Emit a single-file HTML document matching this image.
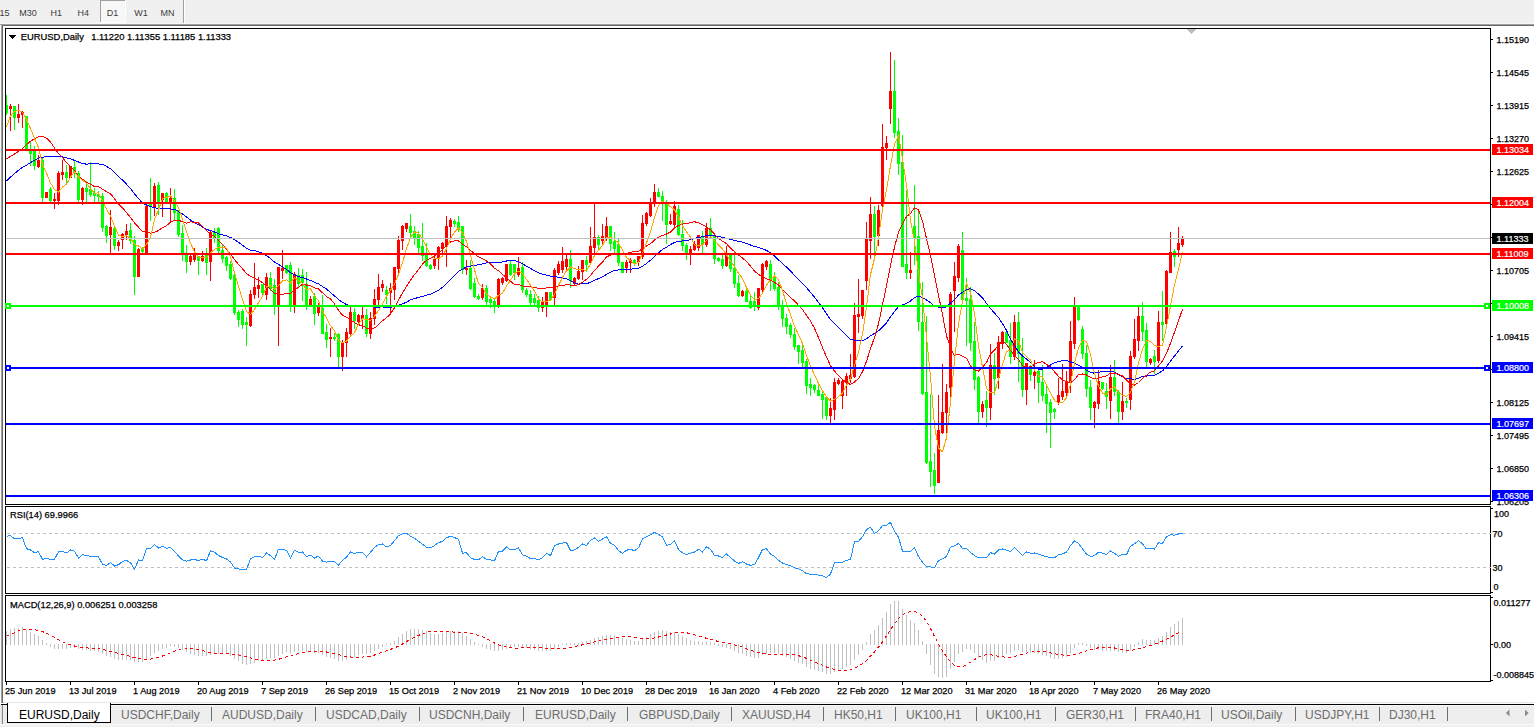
<!DOCTYPE html>
<html><head><meta charset="utf-8"><style>
html,body{margin:0;padding:0;}
body{width:1534px;height:727px;position:relative;overflow:hidden;background:#f0f0f0;font-family:"Liberation Sans", sans-serif;}
.t{position:absolute;white-space:nowrap;line-height:1;font-family:"Liberation Sans", sans-serif;-webkit-text-stroke:0.25px currentColor;}
.n{-webkit-text-stroke:0;transform:none;}
.bx{position:absolute;left:1492px;width:41px;height:11px;font-size:10px;line-height:11px;font-family:"Liberation Sans", sans-serif;padding-left:4px;box-sizing:border-box;-webkit-text-stroke:0.2px currentColor;}
</style></head><body>
<div style="position:absolute;left:100px;top:0;width:26px;height:23px;background:#fff"></div><div style="position:absolute;left:100px;top:0;width:25px;height:22px;background:#f7f7f7;border-left:1px solid #a0a0a0;border-top:1px solid #a0a0a0;box-sizing:border-box"></div>
<div style="position:absolute;left:183px;top:0;width:1px;height:24px;background:#a0a0a0"></div><div style="position:absolute;left:184px;top:0;width:1px;height:24px;background:#fff"></div><div style="position:absolute;left:0;top:23px;width:1534px;height:1px;background:#f7f7f7"></div>
<div style="position:absolute;left:0;top:24px;width:1534px;height:1px;background:#a0a0a0"></div>
<div style="position:absolute;left:1px;top:25px;width:1533px;height:1px;background:#696969"></div>
<div style="position:absolute;left:1px;top:24px;width:1px;height:679px;background:#a0a0a0"></div>
<div style="position:absolute;left:2px;top:25px;width:1px;height:678px;background:#696969"></div>
<div style="position:absolute;left:0;top:25px;width:1px;height:678px;background:#fafafa"></div>
<div style="position:absolute;left:3px;top:26px;width:1531px;height:676px;background:#fff"></div>
<div style="position:absolute;left:3px;top:702px;width:1531px;height:1px;background:#e3e3e3"></div>
<!-- tab strip -->
<div style="position:absolute;left:3px;top:702px;width:1531px;height:1px;background:#e6e6e6"></div>
<div style="position:absolute;left:0;top:703px;width:1534px;height:24px;background:#f0f0f0"></div>
<div style="position:absolute;left:0;top:703px;width:1534px;height:1px;background:#fafafa"></div>
<div style="position:absolute;left:1px;top:705px;width:1533px;height:1px;background:#f8f8f8"></div>
<div style="position:absolute;left:3px;top:706px;width:1531px;height:18px;background:#eeeeee"></div>
<div style="position:absolute;left:0;top:724px;width:1534px;height:1px;background:#fafafa"></div>
<div style="position:absolute;left:1px;top:704px;width:1533px;height:1px;background:#000"></div>
<div style="position:absolute;left:1px;top:705px;width:1px;height:19px;background:#dcdcdc"></div>
<div style="position:absolute;left:2px;top:705px;width:1px;height:19px;background:#8a8a8a"></div>
<div style="position:absolute;left:4px;top:705px;width:2px;height:19px;background:#ebebeb"></div>
<div style="position:absolute;left:7px;top:703px;width:104px;height:20px;background:#fff;border-left:1px solid #000;border-right:1px solid #000;border-bottom:1px solid #000;box-sizing:border-box"></div>
<div class="t n" style="left:19px;top:709.0px;font-size:12px;color:#000">EURUSD,Daily</div><div class="t n" style="left:121px;top:709.0px;font-size:12px;color:#6d6d6d">USDCHF,Daily</div><div class="t n" style="left:222px;top:709.0px;font-size:12px;color:#6d6d6d">AUDUSD,Daily</div><div class="t n" style="left:326px;top:709.0px;font-size:12px;color:#6d6d6d">USDCAD,Daily</div><div class="t n" style="left:429px;top:709.0px;font-size:12px;color:#6d6d6d">USDCNH,Daily</div><div class="t n" style="left:535px;top:709.0px;font-size:12px;color:#6d6d6d">EURUSD,Daily</div><div class="t n" style="left:639px;top:709.0px;font-size:12px;color:#6d6d6d">GBPUSD,Daily</div><div class="t n" style="left:742px;top:709.0px;font-size:12px;color:#6d6d6d">XAUUSD,H4</div><div class="t n" style="left:834px;top:709.0px;font-size:12px;color:#6d6d6d">HK50,H1</div><div class="t n" style="left:906px;top:709.0px;font-size:12px;color:#6d6d6d">UK100,H1</div><div class="t n" style="left:986px;top:709.0px;font-size:12px;color:#6d6d6d">UK100,H1</div><div class="t n" style="left:1066px;top:709.0px;font-size:12px;color:#6d6d6d">GER30,H1</div><div class="t n" style="left:1145px;top:709.0px;font-size:12px;color:#6d6d6d">FRA40,H1</div><div class="t n" style="left:1221px;top:709.0px;font-size:12px;color:#6d6d6d">USOil,Daily</div><div class="t n" style="left:1305px;top:709.0px;font-size:12px;color:#6d6d6d">USDJPY,H1</div><div class="t n" style="left:1389px;top:709.0px;font-size:12px;color:#6d6d6d">DJ30,H1</div><div style="position:absolute;left:211px;top:707px;width:1px;height:14px;background:#6e6e6e"></div><div style="position:absolute;left:315px;top:707px;width:1px;height:14px;background:#6e6e6e"></div><div style="position:absolute;left:419px;top:707px;width:1px;height:14px;background:#6e6e6e"></div><div style="position:absolute;left:523px;top:707px;width:1px;height:14px;background:#6e6e6e"></div><div style="position:absolute;left:627px;top:707px;width:1px;height:14px;background:#6e6e6e"></div><div style="position:absolute;left:731px;top:707px;width:1px;height:14px;background:#6e6e6e"></div><div style="position:absolute;left:823px;top:707px;width:1px;height:14px;background:#6e6e6e"></div><div style="position:absolute;left:895px;top:707px;width:1px;height:14px;background:#6e6e6e"></div><div style="position:absolute;left:976px;top:707px;width:1px;height:14px;background:#6e6e6e"></div><div style="position:absolute;left:1055px;top:707px;width:1px;height:14px;background:#6e6e6e"></div><div style="position:absolute;left:1135px;top:707px;width:1px;height:14px;background:#6e6e6e"></div><div style="position:absolute;left:1211px;top:707px;width:1px;height:14px;background:#6e6e6e"></div><div style="position:absolute;left:1295px;top:707px;width:1px;height:14px;background:#6e6e6e"></div><div style="position:absolute;left:1379px;top:707px;width:1px;height:14px;background:#6e6e6e"></div><div style="position:absolute;left:1447px;top:707px;width:1px;height:14px;background:#6e6e6e"></div>
<svg width="1534" height="727" style="position:absolute;left:0;top:0"><polygon points="1509.5,709.5 1509.5,716.5 1505.8,713" fill="#8c8c8c"/><polygon points="1525,709.5 1525,716.5 1528.7,713" fill="#8c8c8c"/></svg>
<svg width="1534" height="727" style="position:absolute;left:0;top:0" shape-rendering="crispEdges">
<rect x="6" y="95" width="1" height="20" fill="#00ff00"/>
<rect x="6" y="105" width="2" height="8" fill="#00ff00"/>
<rect x="10" y="104" width="1" height="27" fill="#ff0000"/>
<rect x="9" y="106" width="3" height="3" fill="#ff0000"/>
<rect x="14" y="106" width="1" height="24" fill="#00ff00"/>
<rect x="13" y="106" width="3" height="12" fill="#00ff00"/>
<rect x="18" y="104" width="1" height="19" fill="#ff0000"/>
<rect x="17" y="114" width="3" height="4" fill="#ff0000"/>
<rect x="22" y="111" width="1" height="17" fill="#ff0000"/>
<rect x="21" y="112" width="3" height="3" fill="#ff0000"/>
<rect x="26" y="116" width="1" height="35" fill="#00ff00"/>
<rect x="25" y="116" width="3" height="33" fill="#00ff00"/>
<rect x="30" y="142" width="1" height="24" fill="#00ff00"/>
<rect x="29" y="149" width="3" height="5" fill="#00ff00"/>
<rect x="34" y="146" width="1" height="24" fill="#00ff00"/>
<rect x="33" y="151" width="3" height="15" fill="#00ff00"/>
<rect x="38" y="155" width="1" height="13" fill="#ff0000"/>
<rect x="37" y="160" width="3" height="7" fill="#ff0000"/>
<rect x="42" y="158" width="1" height="44" fill="#00ff00"/>
<rect x="41" y="160" width="3" height="38" fill="#00ff00"/>
<rect x="46" y="192" width="1" height="6" fill="#ff0000"/>
<rect x="45" y="192" width="3" height="6" fill="#ff0000"/>
<rect x="50" y="187" width="1" height="15" fill="#00ff00"/>
<rect x="49" y="189" width="3" height="12" fill="#00ff00"/>
<rect x="54" y="193" width="1" height="16" fill="#ff0000"/>
<rect x="53" y="199" width="3" height="2" fill="#ff0000"/>
<rect x="58" y="171" width="1" height="34" fill="#ff0000"/>
<rect x="57" y="173" width="3" height="28" fill="#ff0000"/>
<rect x="62" y="160" width="1" height="20" fill="#ff0000"/>
<rect x="61" y="172" width="3" height="3" fill="#ff0000"/>
<rect x="66" y="165" width="1" height="20" fill="#00ff00"/>
<rect x="65" y="172" width="3" height="6" fill="#00ff00"/>
<rect x="70" y="166" width="1" height="12" fill="#ff0000"/>
<rect x="69" y="166" width="3" height="12" fill="#ff0000"/>
<rect x="74" y="160" width="1" height="18" fill="#00ff00"/>
<rect x="73" y="167" width="3" height="5" fill="#00ff00"/>
<rect x="78" y="171" width="1" height="31" fill="#00ff00"/>
<rect x="77" y="173" width="3" height="27" fill="#00ff00"/>
<rect x="82" y="187" width="1" height="18" fill="#ff0000"/>
<rect x="81" y="188" width="3" height="12" fill="#ff0000"/>
<rect x="86" y="181" width="1" height="22" fill="#00ff00"/>
<rect x="85" y="188" width="3" height="4" fill="#00ff00"/>
<rect x="90" y="162" width="1" height="35" fill="#00ff00"/>
<rect x="89" y="189" width="3" height="6" fill="#00ff00"/>
<rect x="94" y="188" width="1" height="15" fill="#00ff00"/>
<rect x="93" y="193" width="3" height="3" fill="#00ff00"/>
<rect x="98" y="191" width="1" height="11" fill="#00ff00"/>
<rect x="97" y="194" width="3" height="3" fill="#00ff00"/>
<rect x="102" y="193" width="1" height="39" fill="#00ff00"/>
<rect x="101" y="196" width="3" height="32" fill="#00ff00"/>
<rect x="106" y="225" width="1" height="18" fill="#00ff00"/>
<rect x="105" y="226" width="3" height="10" fill="#00ff00"/>
<rect x="110" y="210" width="1" height="44" fill="#ff0000"/>
<rect x="109" y="227" width="3" height="8" fill="#ff0000"/>
<rect x="114" y="227" width="1" height="23" fill="#00ff00"/>
<rect x="113" y="228" width="3" height="18" fill="#00ff00"/>
<rect x="118" y="240" width="1" height="11" fill="#ff0000"/>
<rect x="117" y="242" width="3" height="4" fill="#ff0000"/>
<rect x="122" y="233" width="1" height="16" fill="#ff0000"/>
<rect x="121" y="234" width="3" height="6" fill="#ff0000"/>
<rect x="126" y="224" width="1" height="16" fill="#ff0000"/>
<rect x="125" y="231" width="3" height="4" fill="#ff0000"/>
<rect x="130" y="223" width="1" height="21" fill="#00ff00"/>
<rect x="129" y="230" width="3" height="11" fill="#00ff00"/>
<rect x="134" y="236" width="1" height="59" fill="#00ff00"/>
<rect x="133" y="240" width="3" height="37" fill="#00ff00"/>
<rect x="138" y="248" width="1" height="29" fill="#ff0000"/>
<rect x="137" y="249" width="3" height="28" fill="#ff0000"/>
<rect x="142" y="247" width="1" height="6" fill="#00ff00"/>
<rect x="141" y="248" width="3" height="4" fill="#00ff00"/>
<rect x="146" y="204" width="1" height="50" fill="#ff0000"/>
<rect x="145" y="206" width="3" height="48" fill="#ff0000"/>
<rect x="150" y="178" width="1" height="43" fill="#00ff00"/>
<rect x="149" y="204" width="3" height="3" fill="#00ff00"/>
<rect x="154" y="183" width="1" height="33" fill="#ff0000"/>
<rect x="153" y="186" width="3" height="22" fill="#ff0000"/>
<rect x="158" y="182" width="1" height="33" fill="#00ff00"/>
<rect x="157" y="185" width="3" height="17" fill="#00ff00"/>
<rect x="162" y="193" width="1" height="24" fill="#ff0000"/>
<rect x="161" y="193" width="3" height="7" fill="#ff0000"/>
<rect x="166" y="192" width="1" height="11" fill="#00ff00"/>
<rect x="165" y="193" width="3" height="9" fill="#00ff00"/>
<rect x="170" y="188" width="1" height="35" fill="#ff0000"/>
<rect x="169" y="198" width="3" height="6" fill="#ff0000"/>
<rect x="174" y="189" width="1" height="32" fill="#00ff00"/>
<rect x="173" y="198" width="3" height="15" fill="#00ff00"/>
<rect x="178" y="210" width="1" height="27" fill="#00ff00"/>
<rect x="177" y="210" width="3" height="25" fill="#00ff00"/>
<rect x="182" y="225" width="1" height="36" fill="#00ff00"/>
<rect x="181" y="233" width="3" height="21" fill="#00ff00"/>
<rect x="186" y="245" width="1" height="28" fill="#00ff00"/>
<rect x="185" y="255" width="3" height="7" fill="#00ff00"/>
<rect x="190" y="253" width="1" height="12" fill="#ff0000"/>
<rect x="189" y="256" width="3" height="6" fill="#ff0000"/>
<rect x="194" y="248" width="1" height="14" fill="#ff0000"/>
<rect x="193" y="255" width="3" height="5" fill="#ff0000"/>
<rect x="198" y="256" width="1" height="19" fill="#00ff00"/>
<rect x="197" y="256" width="3" height="5" fill="#00ff00"/>
<rect x="202" y="251" width="1" height="11" fill="#ff0000"/>
<rect x="201" y="256" width="3" height="5" fill="#ff0000"/>
<rect x="206" y="248" width="1" height="27" fill="#00ff00"/>
<rect x="205" y="255" width="3" height="8" fill="#00ff00"/>
<rect x="210" y="231" width="1" height="50" fill="#ff0000"/>
<rect x="209" y="232" width="3" height="30" fill="#ff0000"/>
<rect x="214" y="228" width="1" height="15" fill="#00ff00"/>
<rect x="213" y="232" width="3" height="6" fill="#00ff00"/>
<rect x="218" y="227" width="1" height="26" fill="#00ff00"/>
<rect x="217" y="228" width="3" height="23" fill="#00ff00"/>
<rect x="222" y="245" width="1" height="18" fill="#00ff00"/>
<rect x="221" y="250" width="3" height="9" fill="#00ff00"/>
<rect x="226" y="256" width="1" height="15" fill="#00ff00"/>
<rect x="225" y="257" width="3" height="9" fill="#00ff00"/>
<rect x="230" y="261" width="1" height="19" fill="#00ff00"/>
<rect x="229" y="264" width="3" height="15" fill="#00ff00"/>
<rect x="234" y="274" width="1" height="41" fill="#00ff00"/>
<rect x="233" y="275" width="3" height="38" fill="#00ff00"/>
<rect x="238" y="310" width="1" height="17" fill="#00ff00"/>
<rect x="237" y="312" width="3" height="8" fill="#00ff00"/>
<rect x="242" y="309" width="1" height="20" fill="#00ff00"/>
<rect x="241" y="311" width="3" height="14" fill="#00ff00"/>
<rect x="246" y="317" width="1" height="29" fill="#00ff00"/>
<rect x="245" y="322" width="3" height="3" fill="#00ff00"/>
<rect x="250" y="290" width="1" height="37" fill="#ff0000"/>
<rect x="249" y="294" width="3" height="32" fill="#ff0000"/>
<rect x="254" y="263" width="1" height="36" fill="#ff0000"/>
<rect x="253" y="287" width="3" height="8" fill="#ff0000"/>
<rect x="258" y="277" width="1" height="21" fill="#ff0000"/>
<rect x="257" y="285" width="3" height="4" fill="#ff0000"/>
<rect x="262" y="284" width="1" height="11" fill="#00ff00"/>
<rect x="261" y="284" width="3" height="9" fill="#00ff00"/>
<rect x="266" y="273" width="1" height="27" fill="#ff0000"/>
<rect x="265" y="277" width="3" height="18" fill="#ff0000"/>
<rect x="270" y="272" width="1" height="19" fill="#00ff00"/>
<rect x="269" y="278" width="3" height="11" fill="#00ff00"/>
<rect x="274" y="279" width="1" height="36" fill="#00ff00"/>
<rect x="273" y="285" width="3" height="20" fill="#00ff00"/>
<rect x="278" y="267" width="1" height="79" fill="#ff0000"/>
<rect x="277" y="267" width="3" height="38" fill="#ff0000"/>
<rect x="282" y="250" width="1" height="29" fill="#ff0000"/>
<rect x="281" y="268" width="3" height="3" fill="#ff0000"/>
<rect x="286" y="265" width="1" height="9" fill="#00ff00"/>
<rect x="285" y="265" width="3" height="8" fill="#00ff00"/>
<rect x="290" y="262" width="1" height="50" fill="#00ff00"/>
<rect x="289" y="265" width="3" height="42" fill="#00ff00"/>
<rect x="294" y="272" width="1" height="41" fill="#ff0000"/>
<rect x="293" y="274" width="3" height="31" fill="#ff0000"/>
<rect x="298" y="268" width="1" height="19" fill="#00ff00"/>
<rect x="297" y="275" width="3" height="9" fill="#00ff00"/>
<rect x="302" y="269" width="1" height="32" fill="#00ff00"/>
<rect x="301" y="275" width="3" height="8" fill="#00ff00"/>
<rect x="306" y="272" width="1" height="38" fill="#00ff00"/>
<rect x="305" y="284" width="3" height="21" fill="#00ff00"/>
<rect x="310" y="296" width="1" height="9" fill="#ff0000"/>
<rect x="309" y="299" width="3" height="6" fill="#ff0000"/>
<rect x="314" y="293" width="1" height="32" fill="#00ff00"/>
<rect x="313" y="296" width="3" height="18" fill="#00ff00"/>
<rect x="318" y="303" width="1" height="13" fill="#ff0000"/>
<rect x="317" y="306" width="3" height="7" fill="#ff0000"/>
<rect x="322" y="295" width="1" height="39" fill="#00ff00"/>
<rect x="321" y="308" width="3" height="26" fill="#00ff00"/>
<rect x="326" y="324" width="1" height="24" fill="#00ff00"/>
<rect x="325" y="332" width="3" height="8" fill="#00ff00"/>
<rect x="330" y="328" width="1" height="29" fill="#ff0000"/>
<rect x="329" y="337" width="3" height="2" fill="#ff0000"/>
<rect x="334" y="333" width="1" height="8" fill="#00ff00"/>
<rect x="333" y="337" width="3" height="2" fill="#00ff00"/>
<rect x="338" y="333" width="1" height="35" fill="#00ff00"/>
<rect x="337" y="334" width="3" height="23" fill="#00ff00"/>
<rect x="342" y="340" width="1" height="31" fill="#ff0000"/>
<rect x="341" y="342" width="3" height="15" fill="#ff0000"/>
<rect x="346" y="328" width="1" height="29" fill="#ff0000"/>
<rect x="345" y="332" width="3" height="11" fill="#ff0000"/>
<rect x="350" y="307" width="1" height="30" fill="#ff0000"/>
<rect x="349" y="312" width="3" height="22" fill="#ff0000"/>
<rect x="354" y="308" width="1" height="21" fill="#00ff00"/>
<rect x="353" y="312" width="3" height="9" fill="#00ff00"/>
<rect x="358" y="314" width="1" height="9" fill="#ff0000"/>
<rect x="357" y="315" width="3" height="7" fill="#ff0000"/>
<rect x="362" y="307" width="1" height="22" fill="#ff0000"/>
<rect x="361" y="315" width="3" height="4" fill="#ff0000"/>
<rect x="366" y="309" width="1" height="28" fill="#00ff00"/>
<rect x="365" y="315" width="3" height="19" fill="#00ff00"/>
<rect x="370" y="312" width="1" height="27" fill="#ff0000"/>
<rect x="369" y="318" width="3" height="16" fill="#ff0000"/>
<rect x="374" y="289" width="1" height="36" fill="#ff0000"/>
<rect x="373" y="299" width="3" height="20" fill="#ff0000"/>
<rect x="378" y="274" width="1" height="31" fill="#ff0000"/>
<rect x="377" y="287" width="3" height="13" fill="#ff0000"/>
<rect x="382" y="280" width="1" height="12" fill="#ff0000"/>
<rect x="381" y="284" width="3" height="4" fill="#ff0000"/>
<rect x="386" y="286" width="1" height="18" fill="#00ff00"/>
<rect x="385" y="290" width="3" height="5" fill="#00ff00"/>
<rect x="390" y="283" width="1" height="30" fill="#ff0000"/>
<rect x="389" y="288" width="3" height="5" fill="#ff0000"/>
<rect x="394" y="267" width="1" height="33" fill="#ff0000"/>
<rect x="393" y="267" width="3" height="23" fill="#ff0000"/>
<rect x="398" y="236" width="1" height="38" fill="#ff0000"/>
<rect x="397" y="240" width="3" height="29" fill="#ff0000"/>
<rect x="402" y="225" width="1" height="25" fill="#ff0000"/>
<rect x="401" y="226" width="3" height="15" fill="#ff0000"/>
<rect x="406" y="223" width="1" height="9" fill="#ff0000"/>
<rect x="405" y="223" width="3" height="6" fill="#ff0000"/>
<rect x="410" y="214" width="1" height="23" fill="#00ff00"/>
<rect x="409" y="226" width="3" height="7" fill="#00ff00"/>
<rect x="414" y="226" width="1" height="19" fill="#00ff00"/>
<rect x="413" y="231" width="3" height="7" fill="#00ff00"/>
<rect x="418" y="231" width="1" height="23" fill="#00ff00"/>
<rect x="417" y="234" width="3" height="14" fill="#00ff00"/>
<rect x="422" y="223" width="1" height="38" fill="#00ff00"/>
<rect x="421" y="246" width="3" height="10" fill="#00ff00"/>
<rect x="426" y="243" width="1" height="24" fill="#00ff00"/>
<rect x="425" y="255" width="3" height="11" fill="#00ff00"/>
<rect x="430" y="264" width="1" height="6" fill="#00ff00"/>
<rect x="429" y="265" width="3" height="4" fill="#00ff00"/>
<rect x="434" y="253" width="1" height="16" fill="#ff0000"/>
<rect x="433" y="259" width="3" height="7" fill="#ff0000"/>
<rect x="438" y="246" width="1" height="24" fill="#ff0000"/>
<rect x="437" y="247" width="3" height="12" fill="#ff0000"/>
<rect x="442" y="242" width="1" height="12" fill="#ff0000"/>
<rect x="441" y="243" width="3" height="6" fill="#ff0000"/>
<rect x="446" y="216" width="1" height="51" fill="#ff0000"/>
<rect x="445" y="226" width="3" height="20" fill="#ff0000"/>
<rect x="450" y="218" width="1" height="21" fill="#ff0000"/>
<rect x="449" y="220" width="3" height="7" fill="#ff0000"/>
<rect x="454" y="219" width="1" height="8" fill="#00ff00"/>
<rect x="453" y="221" width="3" height="3" fill="#00ff00"/>
<rect x="458" y="216" width="1" height="16" fill="#00ff00"/>
<rect x="457" y="222" width="3" height="6" fill="#00ff00"/>
<rect x="462" y="226" width="1" height="48" fill="#00ff00"/>
<rect x="461" y="226" width="3" height="44" fill="#00ff00"/>
<rect x="466" y="260" width="1" height="15" fill="#ff0000"/>
<rect x="465" y="268" width="3" height="2" fill="#ff0000"/>
<rect x="470" y="260" width="1" height="30" fill="#00ff00"/>
<rect x="469" y="268" width="3" height="21" fill="#00ff00"/>
<rect x="474" y="278" width="1" height="20" fill="#00ff00"/>
<rect x="473" y="283" width="3" height="14" fill="#00ff00"/>
<rect x="478" y="294" width="1" height="6" fill="#00ff00"/>
<rect x="477" y="296" width="3" height="3" fill="#00ff00"/>
<rect x="482" y="284" width="1" height="16" fill="#ff0000"/>
<rect x="481" y="288" width="3" height="10" fill="#ff0000"/>
<rect x="486" y="285" width="1" height="21" fill="#00ff00"/>
<rect x="485" y="288" width="3" height="14" fill="#00ff00"/>
<rect x="490" y="296" width="1" height="12" fill="#00ff00"/>
<rect x="489" y="299" width="3" height="4" fill="#00ff00"/>
<rect x="494" y="298" width="1" height="15" fill="#00ff00"/>
<rect x="493" y="301" width="3" height="5" fill="#00ff00"/>
<rect x="498" y="278" width="1" height="30" fill="#ff0000"/>
<rect x="497" y="279" width="3" height="27" fill="#ff0000"/>
<rect x="502" y="277" width="1" height="8" fill="#ff0000"/>
<rect x="501" y="278" width="3" height="5" fill="#ff0000"/>
<rect x="506" y="264" width="1" height="18" fill="#ff0000"/>
<rect x="505" y="264" width="3" height="17" fill="#ff0000"/>
<rect x="510" y="261" width="1" height="15" fill="#00ff00"/>
<rect x="509" y="264" width="3" height="11" fill="#00ff00"/>
<rect x="514" y="264" width="1" height="16" fill="#00ff00"/>
<rect x="513" y="264" width="3" height="9" fill="#00ff00"/>
<rect x="518" y="257" width="1" height="20" fill="#ff0000"/>
<rect x="517" y="268" width="3" height="7" fill="#ff0000"/>
<rect x="522" y="262" width="1" height="31" fill="#00ff00"/>
<rect x="521" y="267" width="3" height="23" fill="#00ff00"/>
<rect x="526" y="288" width="1" height="9" fill="#00ff00"/>
<rect x="525" y="290" width="3" height="5" fill="#00ff00"/>
<rect x="530" y="290" width="1" height="16" fill="#00ff00"/>
<rect x="529" y="294" width="3" height="9" fill="#00ff00"/>
<rect x="534" y="294" width="1" height="12" fill="#00ff00"/>
<rect x="533" y="298" width="3" height="5" fill="#00ff00"/>
<rect x="538" y="296" width="1" height="16" fill="#00ff00"/>
<rect x="537" y="300" width="3" height="8" fill="#00ff00"/>
<rect x="542" y="297" width="1" height="15" fill="#ff0000"/>
<rect x="541" y="302" width="3" height="6" fill="#ff0000"/>
<rect x="546" y="292" width="1" height="25" fill="#ff0000"/>
<rect x="545" y="292" width="3" height="13" fill="#ff0000"/>
<rect x="550" y="292" width="1" height="9" fill="#00ff00"/>
<rect x="549" y="292" width="3" height="8" fill="#00ff00"/>
<rect x="554" y="268" width="1" height="38" fill="#ff0000"/>
<rect x="553" y="270" width="3" height="28" fill="#ff0000"/>
<rect x="558" y="261" width="1" height="14" fill="#ff0000"/>
<rect x="557" y="264" width="3" height="9" fill="#ff0000"/>
<rect x="562" y="247" width="1" height="26" fill="#ff0000"/>
<rect x="561" y="261" width="3" height="9" fill="#ff0000"/>
<rect x="566" y="255" width="1" height="16" fill="#ff0000"/>
<rect x="565" y="259" width="3" height="8" fill="#ff0000"/>
<rect x="570" y="250" width="1" height="38" fill="#00ff00"/>
<rect x="569" y="259" width="3" height="22" fill="#00ff00"/>
<rect x="574" y="277" width="1" height="8" fill="#ff0000"/>
<rect x="573" y="278" width="3" height="6" fill="#ff0000"/>
<rect x="578" y="266" width="1" height="14" fill="#ff0000"/>
<rect x="577" y="271" width="3" height="8" fill="#ff0000"/>
<rect x="582" y="260" width="1" height="20" fill="#ff0000"/>
<rect x="581" y="260" width="3" height="12" fill="#ff0000"/>
<rect x="586" y="256" width="1" height="16" fill="#00ff00"/>
<rect x="585" y="260" width="3" height="5" fill="#00ff00"/>
<rect x="590" y="227" width="1" height="36" fill="#ff0000"/>
<rect x="589" y="246" width="3" height="17" fill="#ff0000"/>
<rect x="594" y="204" width="1" height="50" fill="#ff0000"/>
<rect x="593" y="237" width="3" height="11" fill="#ff0000"/>
<rect x="598" y="235" width="1" height="15" fill="#00ff00"/>
<rect x="597" y="237" width="3" height="8" fill="#00ff00"/>
<rect x="602" y="224" width="1" height="20" fill="#ff0000"/>
<rect x="601" y="236" width="3" height="5" fill="#ff0000"/>
<rect x="606" y="217" width="1" height="24" fill="#ff0000"/>
<rect x="605" y="226" width="3" height="12" fill="#ff0000"/>
<rect x="610" y="226" width="1" height="25" fill="#00ff00"/>
<rect x="609" y="226" width="3" height="18" fill="#00ff00"/>
<rect x="614" y="232" width="1" height="21" fill="#00ff00"/>
<rect x="613" y="241" width="3" height="8" fill="#00ff00"/>
<rect x="618" y="239" width="1" height="27" fill="#00ff00"/>
<rect x="617" y="244" width="3" height="19" fill="#00ff00"/>
<rect x="622" y="262" width="1" height="11" fill="#00ff00"/>
<rect x="621" y="262" width="3" height="11" fill="#00ff00"/>
<rect x="626" y="260" width="1" height="13" fill="#ff0000"/>
<rect x="625" y="262" width="3" height="6" fill="#ff0000"/>
<rect x="630" y="258" width="1" height="15" fill="#ff0000"/>
<rect x="629" y="260" width="3" height="3" fill="#ff0000"/>
<rect x="634" y="259" width="1" height="7" fill="#00ff00"/>
<rect x="633" y="260" width="3" height="4" fill="#00ff00"/>
<rect x="638" y="256" width="1" height="10" fill="#ff0000"/>
<rect x="637" y="256" width="3" height="6" fill="#ff0000"/>
<rect x="642" y="215" width="1" height="44" fill="#ff0000"/>
<rect x="641" y="223" width="3" height="34" fill="#ff0000"/>
<rect x="646" y="212" width="1" height="14" fill="#ff0000"/>
<rect x="645" y="213" width="3" height="11" fill="#ff0000"/>
<rect x="650" y="198" width="1" height="19" fill="#ff0000"/>
<rect x="649" y="204" width="3" height="12" fill="#ff0000"/>
<rect x="654" y="184" width="1" height="23" fill="#ff0000"/>
<rect x="653" y="192" width="3" height="11" fill="#ff0000"/>
<rect x="658" y="188" width="1" height="9" fill="#00ff00"/>
<rect x="657" y="192" width="3" height="5" fill="#00ff00"/>
<rect x="662" y="191" width="1" height="30" fill="#00ff00"/>
<rect x="661" y="196" width="3" height="7" fill="#00ff00"/>
<rect x="666" y="200" width="1" height="44" fill="#00ff00"/>
<rect x="665" y="202" width="3" height="23" fill="#00ff00"/>
<rect x="670" y="214" width="1" height="11" fill="#ff0000"/>
<rect x="669" y="221" width="3" height="3" fill="#ff0000"/>
<rect x="674" y="201" width="1" height="26" fill="#ff0000"/>
<rect x="673" y="206" width="3" height="19" fill="#ff0000"/>
<rect x="678" y="205" width="1" height="31" fill="#00ff00"/>
<rect x="677" y="209" width="3" height="26" fill="#00ff00"/>
<rect x="682" y="220" width="1" height="31" fill="#00ff00"/>
<rect x="681" y="234" width="3" height="12" fill="#00ff00"/>
<rect x="686" y="243" width="1" height="17" fill="#00ff00"/>
<rect x="685" y="245" width="3" height="9" fill="#00ff00"/>
<rect x="690" y="246" width="1" height="19" fill="#ff0000"/>
<rect x="689" y="249" width="3" height="5" fill="#ff0000"/>
<rect x="694" y="241" width="1" height="10" fill="#ff0000"/>
<rect x="693" y="244" width="3" height="6" fill="#ff0000"/>
<rect x="698" y="235" width="1" height="16" fill="#ff0000"/>
<rect x="697" y="235" width="3" height="13" fill="#ff0000"/>
<rect x="702" y="231" width="1" height="23" fill="#00ff00"/>
<rect x="701" y="236" width="3" height="9" fill="#00ff00"/>
<rect x="706" y="223" width="1" height="24" fill="#ff0000"/>
<rect x="705" y="228" width="3" height="17" fill="#ff0000"/>
<rect x="710" y="218" width="1" height="21" fill="#00ff00"/>
<rect x="709" y="228" width="3" height="8" fill="#00ff00"/>
<rect x="714" y="233" width="1" height="31" fill="#00ff00"/>
<rect x="713" y="235" width="3" height="24" fill="#00ff00"/>
<rect x="718" y="257" width="1" height="5" fill="#00ff00"/>
<rect x="717" y="258" width="3" height="3" fill="#00ff00"/>
<rect x="722" y="255" width="1" height="14" fill="#00ff00"/>
<rect x="721" y="259" width="3" height="7" fill="#00ff00"/>
<rect x="726" y="246" width="1" height="21" fill="#ff0000"/>
<rect x="725" y="255" width="3" height="11" fill="#ff0000"/>
<rect x="730" y="255" width="1" height="17" fill="#00ff00"/>
<rect x="729" y="255" width="3" height="14" fill="#00ff00"/>
<rect x="734" y="251" width="1" height="37" fill="#00ff00"/>
<rect x="733" y="268" width="3" height="16" fill="#00ff00"/>
<rect x="738" y="275" width="1" height="22" fill="#00ff00"/>
<rect x="737" y="283" width="3" height="13" fill="#00ff00"/>
<rect x="742" y="290" width="1" height="7" fill="#ff0000"/>
<rect x="741" y="291" width="3" height="5" fill="#ff0000"/>
<rect x="746" y="289" width="1" height="13" fill="#00ff00"/>
<rect x="745" y="291" width="3" height="11" fill="#00ff00"/>
<rect x="750" y="296" width="1" height="13" fill="#00ff00"/>
<rect x="749" y="301" width="3" height="7" fill="#00ff00"/>
<rect x="754" y="292" width="1" height="19" fill="#00ff00"/>
<rect x="753" y="301" width="3" height="6" fill="#00ff00"/>
<rect x="758" y="288" width="1" height="22" fill="#ff0000"/>
<rect x="757" y="288" width="3" height="20" fill="#ff0000"/>
<rect x="762" y="263" width="1" height="30" fill="#ff0000"/>
<rect x="761" y="264" width="3" height="26" fill="#ff0000"/>
<rect x="766" y="260" width="1" height="10" fill="#ff0000"/>
<rect x="765" y="261" width="3" height="6" fill="#ff0000"/>
<rect x="770" y="260" width="1" height="31" fill="#00ff00"/>
<rect x="769" y="264" width="3" height="16" fill="#00ff00"/>
<rect x="774" y="272" width="1" height="19" fill="#00ff00"/>
<rect x="773" y="277" width="3" height="12" fill="#00ff00"/>
<rect x="778" y="282" width="1" height="28" fill="#00ff00"/>
<rect x="777" y="287" width="3" height="20" fill="#00ff00"/>
<rect x="782" y="300" width="1" height="27" fill="#00ff00"/>
<rect x="781" y="307" width="3" height="12" fill="#00ff00"/>
<rect x="786" y="314" width="1" height="20" fill="#00ff00"/>
<rect x="785" y="318" width="3" height="9" fill="#00ff00"/>
<rect x="790" y="323" width="1" height="15" fill="#00ff00"/>
<rect x="789" y="325" width="3" height="10" fill="#00ff00"/>
<rect x="794" y="328" width="1" height="22" fill="#00ff00"/>
<rect x="793" y="334" width="3" height="13" fill="#00ff00"/>
<rect x="798" y="345" width="1" height="19" fill="#00ff00"/>
<rect x="797" y="345" width="3" height="7" fill="#00ff00"/>
<rect x="802" y="345" width="1" height="22" fill="#00ff00"/>
<rect x="801" y="350" width="3" height="13" fill="#00ff00"/>
<rect x="806" y="359" width="1" height="35" fill="#00ff00"/>
<rect x="805" y="361" width="3" height="25" fill="#00ff00"/>
<rect x="810" y="378" width="1" height="18" fill="#00ff00"/>
<rect x="809" y="384" width="3" height="4" fill="#00ff00"/>
<rect x="814" y="384" width="1" height="9" fill="#00ff00"/>
<rect x="813" y="385" width="3" height="5" fill="#00ff00"/>
<rect x="818" y="384" width="1" height="12" fill="#00ff00"/>
<rect x="817" y="390" width="3" height="6" fill="#00ff00"/>
<rect x="822" y="392" width="1" height="27" fill="#00ff00"/>
<rect x="821" y="394" width="3" height="6" fill="#00ff00"/>
<rect x="826" y="397" width="1" height="23" fill="#00ff00"/>
<rect x="825" y="397" width="3" height="19" fill="#00ff00"/>
<rect x="830" y="398" width="1" height="25" fill="#ff0000"/>
<rect x="829" y="408" width="3" height="8" fill="#ff0000"/>
<rect x="834" y="378" width="1" height="42" fill="#ff0000"/>
<rect x="833" y="382" width="3" height="28" fill="#ff0000"/>
<rect x="838" y="378" width="1" height="7" fill="#ff0000"/>
<rect x="837" y="380" width="3" height="4" fill="#ff0000"/>
<rect x="842" y="379" width="1" height="30" fill="#ff0000"/>
<rect x="841" y="381" width="3" height="15" fill="#ff0000"/>
<rect x="846" y="373" width="1" height="23" fill="#ff0000"/>
<rect x="845" y="376" width="3" height="7" fill="#ff0000"/>
<rect x="850" y="354" width="1" height="29" fill="#ff0000"/>
<rect x="849" y="375" width="3" height="4" fill="#ff0000"/>
<rect x="854" y="303" width="1" height="75" fill="#ff0000"/>
<rect x="853" y="315" width="3" height="62" fill="#ff0000"/>
<rect x="858" y="279" width="1" height="54" fill="#ff0000"/>
<rect x="857" y="314" width="3" height="3" fill="#ff0000"/>
<rect x="862" y="290" width="1" height="29" fill="#ff0000"/>
<rect x="861" y="290" width="3" height="26" fill="#ff0000"/>
<rect x="866" y="222" width="1" height="68" fill="#ff0000"/>
<rect x="865" y="239" width="3" height="42" fill="#ff0000"/>
<rect x="870" y="197" width="1" height="62" fill="#ff0000"/>
<rect x="869" y="214" width="3" height="27" fill="#ff0000"/>
<rect x="874" y="206" width="1" height="51" fill="#00ff00"/>
<rect x="873" y="214" width="3" height="23" fill="#00ff00"/>
<rect x="878" y="205" width="1" height="41" fill="#ff0000"/>
<rect x="877" y="210" width="3" height="26" fill="#ff0000"/>
<rect x="882" y="124" width="1" height="88" fill="#ff0000"/>
<rect x="881" y="147" width="3" height="59" fill="#ff0000"/>
<rect x="886" y="136" width="1" height="24" fill="#ff0000"/>
<rect x="885" y="143" width="3" height="5" fill="#ff0000"/>
<rect x="890" y="52" width="1" height="72" fill="#ff0000"/>
<rect x="889" y="91" width="3" height="18" fill="#ff0000"/>
<rect x="894" y="60" width="1" height="78" fill="#00ff00"/>
<rect x="893" y="91" width="3" height="42" fill="#00ff00"/>
<rect x="898" y="118" width="1" height="57" fill="#00ff00"/>
<rect x="897" y="131" width="3" height="33" fill="#00ff00"/>
<rect x="902" y="135" width="1" height="132" fill="#00ff00"/>
<rect x="901" y="162" width="3" height="105" fill="#00ff00"/>
<rect x="906" y="190" width="1" height="89" fill="#00ff00"/>
<rect x="905" y="264" width="3" height="9" fill="#00ff00"/>
<rect x="910" y="252" width="1" height="27" fill="#ff0000"/>
<rect x="909" y="270" width="3" height="3" fill="#ff0000"/>
<rect x="914" y="185" width="1" height="80" fill="#00ff00"/>
<rect x="913" y="226" width="3" height="12" fill="#00ff00"/>
<rect x="918" y="209" width="1" height="122" fill="#00ff00"/>
<rect x="917" y="236" width="3" height="86" fill="#00ff00"/>
<rect x="922" y="282" width="1" height="113" fill="#00ff00"/>
<rect x="921" y="322" width="3" height="72" fill="#00ff00"/>
<rect x="926" y="316" width="1" height="148" fill="#00ff00"/>
<rect x="925" y="392" width="3" height="71" fill="#00ff00"/>
<rect x="930" y="394" width="1" height="93" fill="#00ff00"/>
<rect x="929" y="461" width="3" height="11" fill="#00ff00"/>
<rect x="934" y="453" width="1" height="41" fill="#00ff00"/>
<rect x="933" y="470" width="3" height="16" fill="#00ff00"/>
<rect x="938" y="395" width="1" height="88" fill="#ff0000"/>
<rect x="937" y="430" width="3" height="53" fill="#ff0000"/>
<rect x="942" y="364" width="1" height="70" fill="#ff0000"/>
<rect x="941" y="412" width="3" height="21" fill="#ff0000"/>
<rect x="946" y="384" width="1" height="51" fill="#ff0000"/>
<rect x="945" y="392" width="3" height="21" fill="#ff0000"/>
<rect x="950" y="292" width="1" height="105" fill="#ff0000"/>
<rect x="949" y="294" width="3" height="94" fill="#ff0000"/>
<rect x="954" y="262" width="1" height="70" fill="#ff0000"/>
<rect x="953" y="276" width="3" height="15" fill="#ff0000"/>
<rect x="958" y="244" width="1" height="38" fill="#ff0000"/>
<rect x="957" y="246" width="3" height="32" fill="#ff0000"/>
<rect x="962" y="232" width="1" height="68" fill="#00ff00"/>
<rect x="961" y="250" width="3" height="50" fill="#00ff00"/>
<rect x="966" y="278" width="1" height="68" fill="#00ff00"/>
<rect x="965" y="298" width="3" height="3" fill="#00ff00"/>
<rect x="970" y="287" width="1" height="64" fill="#00ff00"/>
<rect x="969" y="299" width="3" height="44" fill="#00ff00"/>
<rect x="974" y="322" width="1" height="68" fill="#00ff00"/>
<rect x="973" y="341" width="3" height="39" fill="#00ff00"/>
<rect x="978" y="376" width="1" height="47" fill="#00ff00"/>
<rect x="977" y="377" width="3" height="35" fill="#00ff00"/>
<rect x="982" y="401" width="1" height="17" fill="#ff0000"/>
<rect x="981" y="404" width="3" height="8" fill="#ff0000"/>
<rect x="986" y="391" width="1" height="36" fill="#00ff00"/>
<rect x="985" y="400" width="3" height="8" fill="#00ff00"/>
<rect x="990" y="344" width="1" height="76" fill="#ff0000"/>
<rect x="989" y="365" width="3" height="43" fill="#ff0000"/>
<rect x="994" y="353" width="1" height="42" fill="#00ff00"/>
<rect x="993" y="365" width="3" height="14" fill="#00ff00"/>
<rect x="998" y="336" width="1" height="53" fill="#ff0000"/>
<rect x="997" y="342" width="3" height="36" fill="#ff0000"/>
<rect x="1002" y="331" width="1" height="18" fill="#ff0000"/>
<rect x="1001" y="332" width="3" height="12" fill="#ff0000"/>
<rect x="1006" y="329" width="1" height="14" fill="#00ff00"/>
<rect x="1005" y="332" width="3" height="11" fill="#00ff00"/>
<rect x="1010" y="323" width="1" height="41" fill="#00ff00"/>
<rect x="1009" y="340" width="3" height="17" fill="#00ff00"/>
<rect x="1014" y="315" width="1" height="45" fill="#ff0000"/>
<rect x="1013" y="322" width="3" height="35" fill="#ff0000"/>
<rect x="1018" y="312" width="1" height="70" fill="#00ff00"/>
<rect x="1017" y="322" width="3" height="32" fill="#00ff00"/>
<rect x="1022" y="338" width="1" height="59" fill="#00ff00"/>
<rect x="1021" y="356" width="3" height="34" fill="#00ff00"/>
<rect x="1026" y="363" width="1" height="42" fill="#ff0000"/>
<rect x="1025" y="363" width="3" height="27" fill="#ff0000"/>
<rect x="1030" y="365" width="1" height="16" fill="#00ff00"/>
<rect x="1029" y="366" width="3" height="9" fill="#00ff00"/>
<rect x="1034" y="360" width="1" height="29" fill="#ff0000"/>
<rect x="1033" y="372" width="3" height="4" fill="#ff0000"/>
<rect x="1038" y="368" width="1" height="35" fill="#00ff00"/>
<rect x="1037" y="371" width="3" height="12" fill="#00ff00"/>
<rect x="1042" y="365" width="1" height="36" fill="#00ff00"/>
<rect x="1041" y="382" width="3" height="14" fill="#00ff00"/>
<rect x="1046" y="386" width="1" height="47" fill="#00ff00"/>
<rect x="1045" y="394" width="3" height="10" fill="#00ff00"/>
<rect x="1050" y="399" width="1" height="49" fill="#00ff00"/>
<rect x="1049" y="402" width="3" height="11" fill="#00ff00"/>
<rect x="1054" y="408" width="1" height="11" fill="#00ff00"/>
<rect x="1053" y="409" width="3" height="3" fill="#00ff00"/>
<rect x="1058" y="378" width="1" height="27" fill="#ff0000"/>
<rect x="1057" y="395" width="3" height="7" fill="#ff0000"/>
<rect x="1062" y="364" width="1" height="36" fill="#ff0000"/>
<rect x="1061" y="391" width="3" height="6" fill="#ff0000"/>
<rect x="1066" y="371" width="1" height="27" fill="#ff0000"/>
<rect x="1065" y="382" width="3" height="11" fill="#ff0000"/>
<rect x="1070" y="321" width="1" height="72" fill="#ff0000"/>
<rect x="1069" y="341" width="3" height="42" fill="#ff0000"/>
<rect x="1074" y="297" width="1" height="52" fill="#ff0000"/>
<rect x="1073" y="307" width="3" height="37" fill="#ff0000"/>
<rect x="1078" y="306" width="1" height="15" fill="#00ff00"/>
<rect x="1077" y="307" width="3" height="13" fill="#00ff00"/>
<rect x="1082" y="326" width="1" height="33" fill="#00ff00"/>
<rect x="1081" y="329" width="3" height="25" fill="#00ff00"/>
<rect x="1086" y="345" width="1" height="52" fill="#00ff00"/>
<rect x="1085" y="353" width="3" height="36" fill="#00ff00"/>
<rect x="1090" y="380" width="1" height="40" fill="#00ff00"/>
<rect x="1089" y="387" width="3" height="21" fill="#00ff00"/>
<rect x="1094" y="401" width="1" height="27" fill="#ff0000"/>
<rect x="1093" y="402" width="3" height="6" fill="#ff0000"/>
<rect x="1098" y="370" width="1" height="39" fill="#ff0000"/>
<rect x="1097" y="381" width="3" height="23" fill="#ff0000"/>
<rect x="1102" y="382" width="1" height="8" fill="#00ff00"/>
<rect x="1101" y="382" width="3" height="7" fill="#00ff00"/>
<rect x="1106" y="383" width="1" height="26" fill="#00ff00"/>
<rect x="1105" y="391" width="3" height="6" fill="#00ff00"/>
<rect x="1110" y="365" width="1" height="54" fill="#ff0000"/>
<rect x="1109" y="377" width="3" height="24" fill="#ff0000"/>
<rect x="1114" y="360" width="1" height="36" fill="#00ff00"/>
<rect x="1113" y="377" width="3" height="15" fill="#00ff00"/>
<rect x="1118" y="390" width="1" height="33" fill="#00ff00"/>
<rect x="1117" y="392" width="3" height="20" fill="#00ff00"/>
<rect x="1122" y="382" width="1" height="38" fill="#ff0000"/>
<rect x="1121" y="401" width="3" height="11" fill="#ff0000"/>
<rect x="1126" y="398" width="1" height="10" fill="#00ff00"/>
<rect x="1125" y="401" width="3" height="2" fill="#00ff00"/>
<rect x="1130" y="351" width="1" height="59" fill="#ff0000"/>
<rect x="1129" y="356" width="3" height="44" fill="#ff0000"/>
<rect x="1134" y="319" width="1" height="40" fill="#ff0000"/>
<rect x="1133" y="339" width="3" height="18" fill="#ff0000"/>
<rect x="1138" y="307" width="1" height="44" fill="#ff0000"/>
<rect x="1137" y="316" width="3" height="25" fill="#ff0000"/>
<rect x="1142" y="302" width="1" height="39" fill="#00ff00"/>
<rect x="1141" y="316" width="3" height="16" fill="#00ff00"/>
<rect x="1146" y="323" width="1" height="44" fill="#00ff00"/>
<rect x="1145" y="330" width="3" height="32" fill="#00ff00"/>
<rect x="1150" y="358" width="1" height="7" fill="#ff0000"/>
<rect x="1149" y="359" width="3" height="4" fill="#ff0000"/>
<rect x="1154" y="350" width="1" height="24" fill="#00ff00"/>
<rect x="1153" y="356" width="3" height="6" fill="#00ff00"/>
<rect x="1158" y="311" width="1" height="52" fill="#ff0000"/>
<rect x="1157" y="322" width="3" height="39" fill="#ff0000"/>
<rect x="1162" y="291" width="1" height="50" fill="#00ff00"/>
<rect x="1161" y="322" width="3" height="3" fill="#00ff00"/>
<rect x="1166" y="270" width="1" height="55" fill="#ff0000"/>
<rect x="1165" y="271" width="3" height="53" fill="#ff0000"/>
<rect x="1170" y="232" width="1" height="41" fill="#ff0000"/>
<rect x="1169" y="252" width="3" height="21" fill="#ff0000"/>
<rect x="1174" y="249" width="1" height="18" fill="#00ff00"/>
<rect x="1173" y="251" width="3" height="6" fill="#00ff00"/>
<rect x="1178" y="227" width="1" height="30" fill="#ff0000"/>
<rect x="1177" y="243" width="3" height="7" fill="#ff0000"/>
<rect x="1182" y="236" width="1" height="11" fill="#ff0000"/>
<rect x="1181" y="238" width="3" height="7" fill="#ff0000"/>
<polyline points="6.5,181.1 10.5,177.2 14.5,173.5 18.5,170.3 22.5,167.4 26.5,165.1 30.5,162.7 34.5,160.2 38.5,158.2 42.5,157.2 46.5,156.7 50.5,156.6 54.5,156.5 58.5,156.4 62.5,156.9 66.5,157.8 70.5,158.8 74.5,160.4 78.5,162.0 82.5,163.4 86.5,164.2 90.5,163.6 94.5,163.6 98.5,164.0 102.5,164.3 106.5,166.3 110.5,168.8 114.5,172.3 118.5,176.3 122.5,180.2 126.5,184.2 130.5,188.6 134.5,193.9 138.5,198.4 142.5,203.1 146.5,205.0 150.5,206.8 154.5,207.5 158.5,208.8 162.5,208.7 166.5,209.0 170.5,208.9 174.5,209.4 178.5,211.4 182.5,214.1 186.5,216.9 190.5,219.9 194.5,222.7 198.5,224.7 202.5,227.0 206.5,229.4 210.5,230.6 214.5,232.0 218.5,233.8 222.5,234.8 226.5,235.8 230.5,237.5 234.5,239.8 238.5,242.3 242.5,245.3 246.5,248.4 250.5,250.2 254.5,250.6 258.5,251.8 262.5,253.2 266.5,255.6 270.5,258.3 274.5,262.2 278.5,264.4 282.5,266.9 286.5,269.3 290.5,272.9 294.5,274.9 298.5,276.6 302.5,277.6 306.5,279.0 310.5,280.4 314.5,282.4 318.5,283.9 322.5,286.5 326.5,289.0 330.5,292.5 334.5,295.9 338.5,299.5 342.5,302.3 346.5,304.5 350.5,305.7 354.5,305.9 358.5,305.8 362.5,305.5 366.5,305.8 370.5,306.7 374.5,307.1 378.5,307.1 382.5,306.9 386.5,307.4 390.5,307.4 394.5,306.2 398.5,305.3 402.5,303.9 406.5,302.2 410.5,299.8 414.5,298.6 418.5,297.4 422.5,296.5 426.5,295.1 430.5,294.1 434.5,292.3 438.5,290.3 442.5,287.3 446.5,283.6 450.5,279.7 454.5,275.8 458.5,271.5 462.5,269.1 466.5,266.9 470.5,266.2 474.5,265.3 478.5,264.8 482.5,263.9 486.5,262.8 490.5,262.2 494.5,262.4 498.5,262.2 502.5,262.0 506.5,261.0 510.5,260.6 514.5,260.7 518.5,261.7 522.5,263.8 526.5,266.1 530.5,268.5 534.5,270.7 538.5,272.7 542.5,274.2 546.5,275.1 550.5,276.2 554.5,276.6 558.5,277.2 562.5,277.8 566.5,278.8 570.5,280.9 574.5,282.7 578.5,284.2 582.5,283.8 586.5,283.7 590.5,282.3 594.5,280.4 598.5,278.6 602.5,276.8 606.5,274.3 610.5,272.4 614.5,270.4 618.5,269.9 622.5,269.6 626.5,269.6 630.5,269.1 634.5,268.8 638.5,268.4 642.5,266.2 646.5,263.5 650.5,260.2 654.5,256.5 658.5,252.8 662.5,249.5 666.5,247.2 670.5,244.6 674.5,242.4 678.5,241.4 682.5,240.9 686.5,240.7 690.5,239.6 694.5,238.5 698.5,237.3 702.5,236.8 706.5,235.6 710.5,235.2 714.5,235.9 718.5,236.4 722.5,237.4 726.5,238.4 730.5,239.2 734.5,240.4 738.5,241.5 742.5,242.1 746.5,243.4 750.5,245.0 754.5,246.4 758.5,247.5 762.5,248.8 766.5,250.4 770.5,252.9 774.5,256.1 778.5,259.8 782.5,263.7 786.5,267.1 790.5,270.9 794.5,275.5 798.5,279.4 802.5,283.3 806.5,287.7 810.5,292.3 814.5,297.2 818.5,302.5 822.5,307.6 826.5,313.8 830.5,319.6 834.5,323.7 838.5,327.7 842.5,331.6 846.5,335.6 850.5,339.2 854.5,340.2 858.5,340.9 862.5,340.9 866.5,338.8 870.5,335.7 874.5,333.4 878.5,330.8 882.5,326.9 886.5,323.0 890.5,316.7 894.5,311.5 898.5,306.7 902.5,305.0 906.5,303.2 910.5,301.0 914.5,297.4 918.5,296.4 922.5,297.5 926.5,300.0 930.5,302.8 934.5,306.0 938.5,307.2 942.5,307.6 946.5,306.9 950.5,303.1 954.5,299.5 958.5,295.1 962.5,292.3 966.5,289.8 970.5,288.7 974.5,290.8 978.5,294.0 982.5,297.8 986.5,303.4 990.5,308.4 994.5,313.1 998.5,317.5 1002.5,323.7 1006.5,330.3 1010.5,339.2 1014.5,345.5 1018.5,351.8 1022.5,355.9 1026.5,359.0 1030.5,362.4 1034.5,366.9 1038.5,369.0 1042.5,369.0 1046.5,367.1 1050.5,365.1 1054.5,362.6 1058.5,361.5 1062.5,360.8 1066.5,360.4 1070.5,362.0 1074.5,363.1 1078.5,365.5 1082.5,367.3 1086.5,370.2 1090.5,372.4 1094.5,373.2 1098.5,372.2 1102.5,371.6 1106.5,371.3 1110.5,371.7 1114.5,372.1 1118.5,374.4 1122.5,376.7 1126.5,378.8 1130.5,378.8 1134.5,379.3 1138.5,378.1 1142.5,376.2 1146.5,376.1 1150.5,375.6 1154.5,375.3 1158.5,373.2 1162.5,370.9 1166.5,366.5 1170.5,361.2 1174.5,356.0 1178.5,350.9 1182.5,345.8" fill="none" stroke="#0000ff" stroke-width="1" />
<polyline points="6.5,158.8 10.5,156.5 14.5,154.0 18.5,151.4 22.5,148.4 26.5,144.6 30.5,141.2 34.5,138.8 38.5,136.8 42.5,136.4 46.5,138.1 50.5,142.1 54.5,148.0 58.5,153.4 62.5,157.7 66.5,162.7 70.5,166.2 74.5,170.4 78.5,176.6 82.5,179.4 86.5,182.1 90.5,184.2 94.5,186.7 98.5,186.6 102.5,189.1 106.5,191.6 110.5,193.7 114.5,198.8 118.5,203.8 122.5,207.9 126.5,212.5 130.5,217.4 134.5,222.9 138.5,227.2 142.5,231.5 146.5,232.3 150.5,233.2 154.5,232.4 158.5,230.6 162.5,227.6 166.5,225.7 170.5,222.3 174.5,220.2 178.5,220.2 182.5,221.8 186.5,223.3 190.5,221.9 194.5,222.3 198.5,222.9 202.5,226.6 206.5,230.6 210.5,233.8 214.5,236.4 218.5,240.4 222.5,244.5 226.5,249.3 230.5,253.9 234.5,259.6 238.5,264.3 242.5,268.8 246.5,273.6 250.5,276.4 254.5,278.4 258.5,280.4 262.5,282.5 266.5,285.8 270.5,289.4 274.5,293.3 278.5,294.0 282.5,294.2 286.5,293.8 290.5,293.3 294.5,290.1 298.5,287.2 302.5,284.2 306.5,285.0 310.5,285.8 314.5,287.8 318.5,288.8 322.5,292.8 326.5,296.5 330.5,298.8 334.5,303.9 338.5,310.2 342.5,315.3 346.5,317.1 350.5,319.8 354.5,322.5 358.5,324.8 362.5,325.6 366.5,328.1 370.5,328.5 374.5,328.0 378.5,324.7 382.5,320.7 386.5,317.7 390.5,314.0 394.5,307.6 398.5,300.3 402.5,292.8 406.5,286.4 410.5,280.1 414.5,274.6 418.5,269.7 422.5,264.1 426.5,260.3 430.5,258.1 434.5,256.0 438.5,253.4 442.5,249.8 446.5,245.4 450.5,242.0 454.5,240.8 458.5,240.9 462.5,244.2 466.5,246.8 470.5,250.4 474.5,253.9 478.5,256.9 482.5,258.6 486.5,260.9 490.5,264.1 494.5,268.2 498.5,270.8 502.5,274.5 506.5,277.7 510.5,281.3 514.5,284.5 518.5,284.4 522.5,285.9 526.5,286.4 530.5,286.9 534.5,287.2 538.5,288.6 542.5,288.7 546.5,287.9 550.5,287.5 554.5,286.9 558.5,285.9 562.5,285.6 566.5,284.6 570.5,285.1 574.5,285.9 578.5,284.6 582.5,282.2 586.5,279.4 590.5,275.4 594.5,270.3 598.5,266.2 602.5,262.2 606.5,257.0 610.5,255.0 614.5,253.8 618.5,253.9 622.5,254.8 626.5,253.5 630.5,252.2 634.5,251.7 638.5,251.4 642.5,248.5 646.5,246.1 650.5,243.7 654.5,240.0 658.5,237.1 662.5,235.4 666.5,234.0 670.5,232.1 674.5,228.0 678.5,225.4 682.5,224.1 686.5,223.6 690.5,222.6 694.5,221.8 698.5,222.6 702.5,224.9 706.5,226.6 710.5,229.7 714.5,234.2 718.5,238.3 722.5,241.2 726.5,243.7 730.5,248.2 734.5,251.7 738.5,255.2 742.5,257.9 746.5,261.6 750.5,266.1 754.5,271.1 758.5,274.3 762.5,276.8 766.5,278.7 770.5,280.2 774.5,282.2 778.5,285.1 782.5,289.6 786.5,293.8 790.5,297.4 794.5,301.0 798.5,305.3 802.5,309.6 806.5,315.2 810.5,321.0 814.5,328.2 818.5,337.6 822.5,347.4 826.5,357.1 830.5,365.7 834.5,371.1 838.5,375.5 842.5,379.4 846.5,382.4 850.5,384.5 854.5,382.0 858.5,378.6 862.5,371.8 866.5,361.3 870.5,348.7 874.5,337.4 878.5,323.9 882.5,304.8 886.5,285.9 890.5,265.1 894.5,247.4 898.5,231.8 902.5,223.9 906.5,216.6 910.5,213.4 914.5,207.8 918.5,210.0 922.5,221.0 926.5,238.7 930.5,255.5 934.5,275.1 938.5,295.3 942.5,314.5 946.5,336.0 950.5,347.6 954.5,355.7 958.5,354.2 962.5,356.2 966.5,358.3 970.5,365.8 974.5,369.9 978.5,371.2 982.5,367.1 986.5,362.5 990.5,353.9 994.5,350.2 998.5,345.2 1002.5,340.9 1006.5,344.3 1010.5,350.1 1014.5,355.5 1018.5,359.3 1022.5,365.7 1026.5,367.2 1030.5,366.9 1034.5,364.1 1038.5,362.5 1042.5,361.7 1046.5,364.4 1050.5,366.8 1054.5,371.8 1058.5,376.3 1062.5,379.8 1066.5,381.6 1070.5,383.0 1074.5,379.7 1078.5,374.7 1082.5,374.0 1086.5,375.0 1090.5,377.5 1094.5,378.9 1098.5,377.9 1102.5,376.9 1106.5,375.8 1110.5,373.3 1114.5,373.0 1118.5,374.5 1122.5,375.8 1126.5,380.2 1130.5,383.7 1134.5,385.1 1138.5,382.5 1142.5,378.5 1146.5,375.2 1150.5,372.1 1154.5,370.7 1158.5,365.9 1162.5,360.8 1166.5,353.2 1170.5,343.3 1174.5,332.2 1178.5,320.9 1182.5,309.2" fill="none" stroke="#ff0000" stroke-width="1" />
<polyline points="6.5,126.6 10.5,116.0 14.5,111.4 18.5,110.1 22.5,112.2 26.5,119.4 30.5,128.7 34.5,138.3 38.5,147.6 42.5,164.6 46.5,173.4 50.5,182.8 54.5,189.6 58.5,192.1 62.5,187.1 66.5,184.0 70.5,177.3 74.5,171.9 78.5,177.1 82.5,180.3 86.5,183.1 90.5,188.6 94.5,193.3 98.5,192.8 102.5,200.6 106.5,209.4 110.5,216.0 114.5,226.1 118.5,235.2 122.5,236.5 126.5,235.7 130.5,238.3 134.5,244.4 138.5,245.9 142.5,249.4 146.5,244.3 150.5,237.5 154.5,219.5 158.5,209.9 162.5,198.4 166.5,197.4 170.5,195.8 174.5,201.1 178.5,207.5 182.5,219.5 186.5,231.5 190.5,243.2 194.5,251.7 198.5,257.0 202.5,257.6 206.5,257.9 210.5,252.9 214.5,249.3 218.5,247.3 222.5,247.6 226.5,248.1 230.5,257.4 234.5,272.5 238.5,286.4 242.5,299.6 246.5,311.4 250.5,314.6 254.5,309.5 258.5,302.8 262.5,296.3 266.5,287.0 270.5,285.7 274.5,289.2 278.5,285.5 282.5,280.8 286.5,279.8 290.5,283.4 294.5,277.4 298.5,280.6 302.5,283.4 306.5,289.9 310.5,288.5 314.5,296.2 318.5,300.8 322.5,311.1 326.5,318.0 330.5,325.6 334.5,330.7 338.5,340.8 342.5,342.6 346.5,341.1 350.5,336.2 354.5,332.6 358.5,324.3 362.5,318.9 366.5,319.2 370.5,320.5 374.5,316.2 378.5,310.6 382.5,304.3 386.5,296.4 390.5,290.2 394.5,283.9 398.5,274.4 402.5,262.9 406.5,248.7 410.5,237.7 414.5,231.7 418.5,233.2 422.5,238.9 426.5,247.4 430.5,254.4 434.5,258.7 438.5,258.7 442.5,256.3 446.5,248.5 450.5,239.0 454.5,231.9 458.5,227.9 462.5,233.2 466.5,241.5 470.5,255.1 474.5,269.7 478.5,283.7 482.5,287.5 486.5,294.1 490.5,297.0 494.5,298.8 498.5,295.2 502.5,293.2 506.5,286.0 510.5,280.2 514.5,273.6 518.5,271.3 522.5,273.4 526.5,279.4 530.5,285.2 534.5,291.3 538.5,299.2 542.5,301.8 546.5,301.3 550.5,300.7 554.5,294.2 558.5,285.6 562.5,277.4 566.5,270.8 570.5,267.0 574.5,268.6 578.5,269.9 582.5,269.7 586.5,270.7 590.5,263.9 594.5,255.6 598.5,250.2 602.5,245.4 606.5,237.9 610.5,237.2 614.5,239.4 618.5,243.0 622.5,250.1 626.5,257.4 630.5,260.8 634.5,264.0 638.5,262.6 642.5,252.9 646.5,243.0 650.5,231.8 654.5,217.4 658.5,205.4 662.5,201.2 666.5,203.4 670.5,206.8 674.5,209.6 678.5,217.3 682.5,225.9 686.5,231.7 690.5,237.2 694.5,245.0 698.5,245.3 702.5,245.2 706.5,240.2 710.5,237.4 714.5,240.2 718.5,245.0 722.5,249.1 726.5,254.6 730.5,261.3 734.5,266.3 738.5,273.4 742.5,278.5 746.5,287.6 750.5,295.3 754.5,299.8 758.5,298.5 762.5,293.0 766.5,285.1 770.5,279.5 774.5,276.0 778.5,279.5 782.5,290.5 786.5,303.5 790.5,314.5 794.5,326.0 798.5,334.9 802.5,343.6 806.5,355.4 810.5,366.0 814.5,374.7 818.5,383.5 822.5,390.9 826.5,396.8 830.5,401.0 834.5,399.6 838.5,396.7 842.5,393.1 846.5,385.4 850.5,378.8 854.5,365.4 858.5,352.2 862.5,334.1 866.5,306.7 870.5,274.5 874.5,258.7 878.5,237.8 882.5,209.2 886.5,190.0 890.5,165.5 894.5,144.6 898.5,135.2 902.5,158.9 906.5,184.7 910.5,220.4 914.5,241.5 918.5,273.1 922.5,298.5 926.5,336.5 930.5,376.7 934.5,426.2 938.5,448.0 942.5,451.8 946.5,437.8 950.5,402.4 954.5,360.7 958.5,324.0 962.5,301.3 966.5,283.1 970.5,292.6 974.5,313.1 978.5,346.0 982.5,367.1 986.5,388.3 990.5,393.0 994.5,392.8 998.5,378.9 1002.5,364.6 1006.5,351.6 1010.5,349.8 1014.5,338.7 1018.5,341.0 1022.5,352.3 1026.5,356.5 1030.5,360.1 1034.5,370.0 1038.5,376.0 1042.5,377.1 1046.5,385.2 1050.5,392.7 1054.5,400.5 1058.5,403.1 1062.5,402.3 1066.5,398.1 1070.5,384.0 1074.5,363.2 1078.5,347.9 1082.5,340.3 1086.5,341.6 1090.5,354.7 1094.5,373.6 1098.5,386.1 1102.5,393.2 1106.5,394.8 1110.5,388.9 1114.5,386.7 1118.5,392.6 1122.5,395.1 1126.5,396.4 1130.5,392.2 1134.5,381.7 1138.5,362.9 1142.5,349.0 1146.5,340.7 1150.5,341.3 1154.5,345.7 1158.5,346.7 1162.5,345.2 1166.5,327.2 1170.5,306.0 1174.5,284.9 1178.5,269.2 1182.5,252.0" fill="none" stroke="#ffa500" stroke-width="1" />
<rect x="6" y="238" width="1484" height="1" fill="#c0c0c0"/>
<rect x="6" y="149" width="1485" height="2" fill="#ff0000"/>
<rect x="6" y="202" width="1485" height="2" fill="#ff0000"/>
<rect x="6" y="253" width="1485" height="2" fill="#ff0000"/>
<rect x="6" y="305" width="1485" height="2" fill="#00ff00"/>
<rect x="6" y="367" width="1485" height="2" fill="#0000ff"/>
<rect x="6" y="423" width="1485" height="2" fill="#0000ff"/>
<rect x="6" y="495" width="1485" height="2" fill="#0000ff"/>
<polygon points="1187,29 1196.5,29 1191.75,34" fill="#c0c0c0"/>
<rect x="6" y="631" width="1" height="14" fill="#c0c0c0"/>
<rect x="10" y="629" width="1" height="16" fill="#c0c0c0"/>
<rect x="14" y="628" width="1" height="17" fill="#c0c0c0"/>
<rect x="18" y="628" width="1" height="17" fill="#c0c0c0"/>
<rect x="22" y="627" width="1" height="18" fill="#c0c0c0"/>
<rect x="26" y="630" width="1" height="15" fill="#c0c0c0"/>
<rect x="30" y="632" width="1" height="13" fill="#c0c0c0"/>
<rect x="34" y="634" width="1" height="11" fill="#c0c0c0"/>
<rect x="38" y="636" width="1" height="9" fill="#c0c0c0"/>
<rect x="42" y="640" width="1" height="5" fill="#c0c0c0"/>
<rect x="46" y="643" width="1" height="2" fill="#c0c0c0"/>
<rect x="50" y="644" width="1" height="3" fill="#c0c0c0"/>
<rect x="54" y="644" width="1" height="5" fill="#c0c0c0"/>
<rect x="58" y="644" width="1" height="5" fill="#c0c0c0"/>
<rect x="62" y="644" width="1" height="5" fill="#c0c0c0"/>
<rect x="66" y="644" width="1" height="5" fill="#c0c0c0"/>
<rect x="70" y="644" width="1" height="4" fill="#c0c0c0"/>
<rect x="74" y="644" width="1" height="4" fill="#c0c0c0"/>
<rect x="78" y="644" width="1" height="5" fill="#c0c0c0"/>
<rect x="82" y="644" width="1" height="6" fill="#c0c0c0"/>
<rect x="86" y="644" width="1" height="6" fill="#c0c0c0"/>
<rect x="90" y="644" width="1" height="7" fill="#c0c0c0"/>
<rect x="94" y="644" width="1" height="7" fill="#c0c0c0"/>
<rect x="98" y="644" width="1" height="8" fill="#c0c0c0"/>
<rect x="102" y="644" width="1" height="10" fill="#c0c0c0"/>
<rect x="106" y="644" width="1" height="12" fill="#c0c0c0"/>
<rect x="110" y="644" width="1" height="13" fill="#c0c0c0"/>
<rect x="114" y="644" width="1" height="15" fill="#c0c0c0"/>
<rect x="118" y="644" width="1" height="16" fill="#c0c0c0"/>
<rect x="122" y="644" width="1" height="16" fill="#c0c0c0"/>
<rect x="126" y="644" width="1" height="16" fill="#c0c0c0"/>
<rect x="130" y="644" width="1" height="16" fill="#c0c0c0"/>
<rect x="134" y="644" width="1" height="18" fill="#c0c0c0"/>
<rect x="138" y="644" width="1" height="18" fill="#c0c0c0"/>
<rect x="142" y="644" width="1" height="18" fill="#c0c0c0"/>
<rect x="146" y="644" width="1" height="15" fill="#c0c0c0"/>
<rect x="150" y="644" width="1" height="12" fill="#c0c0c0"/>
<rect x="154" y="644" width="1" height="9" fill="#c0c0c0"/>
<rect x="158" y="644" width="1" height="7" fill="#c0c0c0"/>
<rect x="162" y="644" width="1" height="5" fill="#c0c0c0"/>
<rect x="166" y="644" width="1" height="4" fill="#c0c0c0"/>
<rect x="170" y="644" width="1" height="2" fill="#c0c0c0"/>
<rect x="174" y="644" width="1" height="3" fill="#c0c0c0"/>
<rect x="178" y="644" width="1" height="4" fill="#c0c0c0"/>
<rect x="182" y="644" width="1" height="6" fill="#c0c0c0"/>
<rect x="186" y="644" width="1" height="8" fill="#c0c0c0"/>
<rect x="190" y="644" width="1" height="10" fill="#c0c0c0"/>
<rect x="194" y="644" width="1" height="11" fill="#c0c0c0"/>
<rect x="198" y="644" width="1" height="12" fill="#c0c0c0"/>
<rect x="202" y="644" width="1" height="12" fill="#c0c0c0"/>
<rect x="206" y="644" width="1" height="12" fill="#c0c0c0"/>
<rect x="210" y="644" width="1" height="11" fill="#c0c0c0"/>
<rect x="214" y="644" width="1" height="10" fill="#c0c0c0"/>
<rect x="218" y="644" width="1" height="10" fill="#c0c0c0"/>
<rect x="222" y="644" width="1" height="10" fill="#c0c0c0"/>
<rect x="226" y="644" width="1" height="10" fill="#c0c0c0"/>
<rect x="230" y="644" width="1" height="12" fill="#c0c0c0"/>
<rect x="234" y="644" width="1" height="15" fill="#c0c0c0"/>
<rect x="238" y="644" width="1" height="17" fill="#c0c0c0"/>
<rect x="242" y="644" width="1" height="20" fill="#c0c0c0"/>
<rect x="246" y="644" width="1" height="21" fill="#c0c0c0"/>
<rect x="250" y="644" width="1" height="20" fill="#c0c0c0"/>
<rect x="254" y="644" width="1" height="19" fill="#c0c0c0"/>
<rect x="258" y="644" width="1" height="17" fill="#c0c0c0"/>
<rect x="262" y="644" width="1" height="16" fill="#c0c0c0"/>
<rect x="266" y="644" width="1" height="15" fill="#c0c0c0"/>
<rect x="270" y="644" width="1" height="14" fill="#c0c0c0"/>
<rect x="274" y="644" width="1" height="14" fill="#c0c0c0"/>
<rect x="278" y="644" width="1" height="12" fill="#c0c0c0"/>
<rect x="282" y="644" width="1" height="10" fill="#c0c0c0"/>
<rect x="286" y="644" width="1" height="8" fill="#c0c0c0"/>
<rect x="290" y="644" width="1" height="9" fill="#c0c0c0"/>
<rect x="294" y="644" width="1" height="8" fill="#c0c0c0"/>
<rect x="298" y="644" width="1" height="7" fill="#c0c0c0"/>
<rect x="302" y="644" width="1" height="7" fill="#c0c0c0"/>
<rect x="306" y="644" width="1" height="8" fill="#c0c0c0"/>
<rect x="310" y="644" width="1" height="8" fill="#c0c0c0"/>
<rect x="314" y="644" width="1" height="9" fill="#c0c0c0"/>
<rect x="318" y="644" width="1" height="9" fill="#c0c0c0"/>
<rect x="322" y="644" width="1" height="11" fill="#c0c0c0"/>
<rect x="326" y="644" width="1" height="13" fill="#c0c0c0"/>
<rect x="330" y="644" width="1" height="14" fill="#c0c0c0"/>
<rect x="334" y="644" width="1" height="15" fill="#c0c0c0"/>
<rect x="338" y="644" width="1" height="17" fill="#c0c0c0"/>
<rect x="342" y="644" width="1" height="17" fill="#c0c0c0"/>
<rect x="346" y="644" width="1" height="16" fill="#c0c0c0"/>
<rect x="350" y="644" width="1" height="14" fill="#c0c0c0"/>
<rect x="354" y="644" width="1" height="13" fill="#c0c0c0"/>
<rect x="358" y="644" width="1" height="11" fill="#c0c0c0"/>
<rect x="362" y="644" width="1" height="10" fill="#c0c0c0"/>
<rect x="366" y="644" width="1" height="10" fill="#c0c0c0"/>
<rect x="370" y="644" width="1" height="9" fill="#c0c0c0"/>
<rect x="374" y="644" width="1" height="7" fill="#c0c0c0"/>
<rect x="378" y="644" width="1" height="5" fill="#c0c0c0"/>
<rect x="382" y="644" width="1" height="3" fill="#c0c0c0"/>
<rect x="386" y="644" width="1" height="1" fill="#c0c0c0"/>
<rect x="390" y="643" width="1" height="2" fill="#c0c0c0"/>
<rect x="394" y="641" width="1" height="4" fill="#c0c0c0"/>
<rect x="398" y="637" width="1" height="8" fill="#c0c0c0"/>
<rect x="402" y="634" width="1" height="11" fill="#c0c0c0"/>
<rect x="406" y="631" width="1" height="14" fill="#c0c0c0"/>
<rect x="410" y="629" width="1" height="16" fill="#c0c0c0"/>
<rect x="414" y="629" width="1" height="16" fill="#c0c0c0"/>
<rect x="418" y="629" width="1" height="16" fill="#c0c0c0"/>
<rect x="422" y="630" width="1" height="15" fill="#c0c0c0"/>
<rect x="426" y="631" width="1" height="14" fill="#c0c0c0"/>
<rect x="430" y="633" width="1" height="12" fill="#c0c0c0"/>
<rect x="434" y="634" width="1" height="11" fill="#c0c0c0"/>
<rect x="438" y="634" width="1" height="11" fill="#c0c0c0"/>
<rect x="442" y="633" width="1" height="12" fill="#c0c0c0"/>
<rect x="446" y="632" width="1" height="13" fill="#c0c0c0"/>
<rect x="450" y="631" width="1" height="14" fill="#c0c0c0"/>
<rect x="454" y="631" width="1" height="14" fill="#c0c0c0"/>
<rect x="458" y="631" width="1" height="14" fill="#c0c0c0"/>
<rect x="462" y="633" width="1" height="12" fill="#c0c0c0"/>
<rect x="466" y="636" width="1" height="9" fill="#c0c0c0"/>
<rect x="470" y="639" width="1" height="6" fill="#c0c0c0"/>
<rect x="474" y="642" width="1" height="3" fill="#c0c0c0"/>
<rect x="478" y="644" width="1" height="1" fill="#c0c0c0"/>
<rect x="482" y="644" width="1" height="3" fill="#c0c0c0"/>
<rect x="486" y="644" width="1" height="5" fill="#c0c0c0"/>
<rect x="490" y="644" width="1" height="6" fill="#c0c0c0"/>
<rect x="494" y="644" width="1" height="7" fill="#c0c0c0"/>
<rect x="498" y="644" width="1" height="7" fill="#c0c0c0"/>
<rect x="502" y="644" width="1" height="6" fill="#c0c0c0"/>
<rect x="506" y="644" width="1" height="5" fill="#c0c0c0"/>
<rect x="510" y="644" width="1" height="4" fill="#c0c0c0"/>
<rect x="514" y="644" width="1" height="3" fill="#c0c0c0"/>
<rect x="518" y="644" width="1" height="3" fill="#c0c0c0"/>
<rect x="522" y="644" width="1" height="3" fill="#c0c0c0"/>
<rect x="526" y="644" width="1" height="4" fill="#c0c0c0"/>
<rect x="530" y="644" width="1" height="5" fill="#c0c0c0"/>
<rect x="534" y="644" width="1" height="6" fill="#c0c0c0"/>
<rect x="538" y="644" width="1" height="7" fill="#c0c0c0"/>
<rect x="542" y="644" width="1" height="7" fill="#c0c0c0"/>
<rect x="546" y="644" width="1" height="7" fill="#c0c0c0"/>
<rect x="550" y="644" width="1" height="7" fill="#c0c0c0"/>
<rect x="554" y="644" width="1" height="5" fill="#c0c0c0"/>
<rect x="558" y="644" width="1" height="3" fill="#c0c0c0"/>
<rect x="562" y="644" width="1" height="1" fill="#c0c0c0"/>
<rect x="566" y="643" width="1" height="2" fill="#c0c0c0"/>
<rect x="570" y="643" width="1" height="2" fill="#c0c0c0"/>
<rect x="574" y="643" width="1" height="2" fill="#c0c0c0"/>
<rect x="578" y="643" width="1" height="2" fill="#c0c0c0"/>
<rect x="582" y="642" width="1" height="3" fill="#c0c0c0"/>
<rect x="586" y="641" width="1" height="4" fill="#c0c0c0"/>
<rect x="590" y="640" width="1" height="5" fill="#c0c0c0"/>
<rect x="594" y="638" width="1" height="7" fill="#c0c0c0"/>
<rect x="598" y="637" width="1" height="8" fill="#c0c0c0"/>
<rect x="602" y="636" width="1" height="9" fill="#c0c0c0"/>
<rect x="606" y="635" width="1" height="10" fill="#c0c0c0"/>
<rect x="610" y="635" width="1" height="10" fill="#c0c0c0"/>
<rect x="614" y="635" width="1" height="10" fill="#c0c0c0"/>
<rect x="618" y="637" width="1" height="8" fill="#c0c0c0"/>
<rect x="622" y="638" width="1" height="7" fill="#c0c0c0"/>
<rect x="626" y="639" width="1" height="6" fill="#c0c0c0"/>
<rect x="630" y="640" width="1" height="5" fill="#c0c0c0"/>
<rect x="634" y="641" width="1" height="4" fill="#c0c0c0"/>
<rect x="638" y="641" width="1" height="4" fill="#c0c0c0"/>
<rect x="642" y="639" width="1" height="6" fill="#c0c0c0"/>
<rect x="646" y="637" width="1" height="8" fill="#c0c0c0"/>
<rect x="650" y="634" width="1" height="11" fill="#c0c0c0"/>
<rect x="654" y="632" width="1" height="13" fill="#c0c0c0"/>
<rect x="658" y="631" width="1" height="14" fill="#c0c0c0"/>
<rect x="662" y="630" width="1" height="15" fill="#c0c0c0"/>
<rect x="666" y="631" width="1" height="14" fill="#c0c0c0"/>
<rect x="670" y="632" width="1" height="13" fill="#c0c0c0"/>
<rect x="674" y="632" width="1" height="13" fill="#c0c0c0"/>
<rect x="678" y="634" width="1" height="11" fill="#c0c0c0"/>
<rect x="682" y="636" width="1" height="9" fill="#c0c0c0"/>
<rect x="686" y="638" width="1" height="7" fill="#c0c0c0"/>
<rect x="690" y="640" width="1" height="5" fill="#c0c0c0"/>
<rect x="694" y="641" width="1" height="4" fill="#c0c0c0"/>
<rect x="698" y="641" width="1" height="4" fill="#c0c0c0"/>
<rect x="702" y="642" width="1" height="3" fill="#c0c0c0"/>
<rect x="706" y="642" width="1" height="3" fill="#c0c0c0"/>
<rect x="710" y="642" width="1" height="3" fill="#c0c0c0"/>
<rect x="714" y="643" width="1" height="2" fill="#c0c0c0"/>
<rect x="718" y="644" width="1" height="2" fill="#c0c0c0"/>
<rect x="722" y="644" width="1" height="3" fill="#c0c0c0"/>
<rect x="726" y="644" width="1" height="4" fill="#c0c0c0"/>
<rect x="730" y="644" width="1" height="5" fill="#c0c0c0"/>
<rect x="734" y="644" width="1" height="7" fill="#c0c0c0"/>
<rect x="738" y="644" width="1" height="9" fill="#c0c0c0"/>
<rect x="742" y="644" width="1" height="10" fill="#c0c0c0"/>
<rect x="746" y="644" width="1" height="12" fill="#c0c0c0"/>
<rect x="750" y="644" width="1" height="13" fill="#c0c0c0"/>
<rect x="754" y="644" width="1" height="14" fill="#c0c0c0"/>
<rect x="758" y="644" width="1" height="14" fill="#c0c0c0"/>
<rect x="762" y="644" width="1" height="11" fill="#c0c0c0"/>
<rect x="766" y="644" width="1" height="10" fill="#c0c0c0"/>
<rect x="770" y="644" width="1" height="9" fill="#c0c0c0"/>
<rect x="774" y="644" width="1" height="9" fill="#c0c0c0"/>
<rect x="778" y="644" width="1" height="10" fill="#c0c0c0"/>
<rect x="782" y="644" width="1" height="12" fill="#c0c0c0"/>
<rect x="786" y="644" width="1" height="13" fill="#c0c0c0"/>
<rect x="790" y="644" width="1" height="15" fill="#c0c0c0"/>
<rect x="794" y="644" width="1" height="17" fill="#c0c0c0"/>
<rect x="798" y="644" width="1" height="19" fill="#c0c0c0"/>
<rect x="802" y="644" width="1" height="20" fill="#c0c0c0"/>
<rect x="806" y="644" width="1" height="23" fill="#c0c0c0"/>
<rect x="810" y="644" width="1" height="25" fill="#c0c0c0"/>
<rect x="814" y="644" width="1" height="26" fill="#c0c0c0"/>
<rect x="818" y="644" width="1" height="27" fill="#c0c0c0"/>
<rect x="822" y="644" width="1" height="28" fill="#c0c0c0"/>
<rect x="826" y="644" width="1" height="30" fill="#c0c0c0"/>
<rect x="830" y="644" width="1" height="30" fill="#c0c0c0"/>
<rect x="834" y="644" width="1" height="28" fill="#c0c0c0"/>
<rect x="838" y="644" width="1" height="27" fill="#c0c0c0"/>
<rect x="842" y="644" width="1" height="25" fill="#c0c0c0"/>
<rect x="846" y="644" width="1" height="23" fill="#c0c0c0"/>
<rect x="850" y="644" width="1" height="21" fill="#c0c0c0"/>
<rect x="854" y="644" width="1" height="16" fill="#c0c0c0"/>
<rect x="858" y="644" width="1" height="11" fill="#c0c0c0"/>
<rect x="862" y="644" width="1" height="6" fill="#c0c0c0"/>
<rect x="866" y="642" width="1" height="3" fill="#c0c0c0"/>
<rect x="870" y="634" width="1" height="11" fill="#c0c0c0"/>
<rect x="874" y="630" width="1" height="15" fill="#c0c0c0"/>
<rect x="878" y="625" width="1" height="20" fill="#c0c0c0"/>
<rect x="882" y="618" width="1" height="27" fill="#c0c0c0"/>
<rect x="886" y="612" width="1" height="33" fill="#c0c0c0"/>
<rect x="890" y="604" width="1" height="41" fill="#c0c0c0"/>
<rect x="894" y="601" width="1" height="44" fill="#c0c0c0"/>
<rect x="898" y="601" width="1" height="44" fill="#c0c0c0"/>
<rect x="902" y="609" width="1" height="36" fill="#c0c0c0"/>
<rect x="906" y="615" width="1" height="30" fill="#c0c0c0"/>
<rect x="910" y="620" width="1" height="25" fill="#c0c0c0"/>
<rect x="914" y="623" width="1" height="22" fill="#c0c0c0"/>
<rect x="918" y="630" width="1" height="15" fill="#c0c0c0"/>
<rect x="922" y="641" width="1" height="4" fill="#c0c0c0"/>
<rect x="926" y="644" width="1" height="10" fill="#c0c0c0"/>
<rect x="930" y="644" width="1" height="21" fill="#c0c0c0"/>
<rect x="934" y="644" width="1" height="30" fill="#c0c0c0"/>
<rect x="938" y="644" width="1" height="33" fill="#c0c0c0"/>
<rect x="942" y="644" width="1" height="34" fill="#c0c0c0"/>
<rect x="946" y="644" width="1" height="33" fill="#c0c0c0"/>
<rect x="950" y="644" width="1" height="25" fill="#c0c0c0"/>
<rect x="954" y="644" width="1" height="18" fill="#c0c0c0"/>
<rect x="958" y="644" width="1" height="10" fill="#c0c0c0"/>
<rect x="962" y="644" width="1" height="8" fill="#c0c0c0"/>
<rect x="966" y="644" width="1" height="5" fill="#c0c0c0"/>
<rect x="970" y="644" width="1" height="6" fill="#c0c0c0"/>
<rect x="974" y="644" width="1" height="9" fill="#c0c0c0"/>
<rect x="978" y="644" width="1" height="14" fill="#c0c0c0"/>
<rect x="982" y="644" width="1" height="16" fill="#c0c0c0"/>
<rect x="986" y="644" width="1" height="19" fill="#c0c0c0"/>
<rect x="990" y="644" width="1" height="17" fill="#c0c0c0"/>
<rect x="994" y="644" width="1" height="17" fill="#c0c0c0"/>
<rect x="998" y="644" width="1" height="14" fill="#c0c0c0"/>
<rect x="1002" y="644" width="1" height="12" fill="#c0c0c0"/>
<rect x="1006" y="644" width="1" height="10" fill="#c0c0c0"/>
<rect x="1010" y="644" width="1" height="9" fill="#c0c0c0"/>
<rect x="1014" y="644" width="1" height="7" fill="#c0c0c0"/>
<rect x="1018" y="644" width="1" height="6" fill="#c0c0c0"/>
<rect x="1022" y="644" width="1" height="8" fill="#c0c0c0"/>
<rect x="1026" y="644" width="1" height="8" fill="#c0c0c0"/>
<rect x="1030" y="644" width="1" height="9" fill="#c0c0c0"/>
<rect x="1034" y="644" width="1" height="9" fill="#c0c0c0"/>
<rect x="1038" y="644" width="1" height="10" fill="#c0c0c0"/>
<rect x="1042" y="644" width="1" height="11" fill="#c0c0c0"/>
<rect x="1046" y="644" width="1" height="12" fill="#c0c0c0"/>
<rect x="1050" y="644" width="1" height="14" fill="#c0c0c0"/>
<rect x="1054" y="644" width="1" height="15" fill="#c0c0c0"/>
<rect x="1058" y="644" width="1" height="15" fill="#c0c0c0"/>
<rect x="1062" y="644" width="1" height="14" fill="#c0c0c0"/>
<rect x="1066" y="644" width="1" height="13" fill="#c0c0c0"/>
<rect x="1070" y="644" width="1" height="9" fill="#c0c0c0"/>
<rect x="1074" y="644" width="1" height="4" fill="#c0c0c0"/>
<rect x="1078" y="643" width="1" height="2" fill="#c0c0c0"/>
<rect x="1082" y="643" width="1" height="2" fill="#c0c0c0"/>
<rect x="1086" y="644" width="1" height="2" fill="#c0c0c0"/>
<rect x="1090" y="644" width="1" height="4" fill="#c0c0c0"/>
<rect x="1094" y="644" width="1" height="6" fill="#c0c0c0"/>
<rect x="1098" y="644" width="1" height="6" fill="#c0c0c0"/>
<rect x="1102" y="644" width="1" height="7" fill="#c0c0c0"/>
<rect x="1106" y="644" width="1" height="7" fill="#c0c0c0"/>
<rect x="1110" y="644" width="1" height="7" fill="#c0c0c0"/>
<rect x="1114" y="644" width="1" height="7" fill="#c0c0c0"/>
<rect x="1118" y="644" width="1" height="8" fill="#c0c0c0"/>
<rect x="1122" y="644" width="1" height="9" fill="#c0c0c0"/>
<rect x="1126" y="644" width="1" height="9" fill="#c0c0c0"/>
<rect x="1130" y="644" width="1" height="6" fill="#c0c0c0"/>
<rect x="1134" y="644" width="1" height="3" fill="#c0c0c0"/>
<rect x="1138" y="642" width="1" height="3" fill="#c0c0c0"/>
<rect x="1142" y="639" width="1" height="6" fill="#c0c0c0"/>
<rect x="1146" y="640" width="1" height="5" fill="#c0c0c0"/>
<rect x="1150" y="640" width="1" height="5" fill="#c0c0c0"/>
<rect x="1154" y="640" width="1" height="5" fill="#c0c0c0"/>
<rect x="1158" y="638" width="1" height="7" fill="#c0c0c0"/>
<rect x="1162" y="636" width="1" height="9" fill="#c0c0c0"/>
<rect x="1166" y="632" width="1" height="13" fill="#c0c0c0"/>
<rect x="1170" y="627" width="1" height="18" fill="#c0c0c0"/>
<rect x="1174" y="624" width="1" height="21" fill="#c0c0c0"/>
<rect x="1178" y="621" width="1" height="24" fill="#c0c0c0"/>
<rect x="1182" y="618" width="1" height="27" fill="#c0c0c0"/>
<polyline points="6.5,636.2 10.5,634.4 14.5,632.7 18.5,630.9 22.5,629.6 26.5,629.5 30.5,629.5 34.5,629.7 38.5,630.5 42.5,631.6 46.5,633.2 50.5,635.2 54.5,637.4 58.5,639.7 62.5,641.7 66.5,643.4 70.5,644.8 74.5,646.0 78.5,646.9 82.5,647.5 86.5,647.9 90.5,648.2 94.5,648.4 98.5,648.8 102.5,649.4 106.5,650.3 110.5,651.3 114.5,652.3 118.5,653.4 122.5,654.5 126.5,655.4 130.5,656.4 134.5,657.6 138.5,658.5 142.5,659.2 146.5,659.4 150.5,659.1 154.5,658.3 158.5,657.2 162.5,656.0 166.5,654.6 170.5,652.9 174.5,651.2 178.5,649.6 182.5,648.6 186.5,648.2 190.5,648.4 194.5,648.8 198.5,649.6 202.5,650.5 206.5,651.6 210.5,652.5 214.5,653.2 218.5,653.5 222.5,653.7 226.5,653.8 230.5,653.9 234.5,654.2 238.5,654.9 242.5,655.6 246.5,656.8 250.5,657.9 254.5,658.9 258.5,659.8 262.5,660.4 266.5,660.7 270.5,660.6 274.5,660.2 278.5,659.3 282.5,658.1 286.5,656.8 290.5,655.7 294.5,654.7 298.5,653.7 302.5,652.8 306.5,652.2 310.5,651.6 314.5,651.3 318.5,651.3 322.5,651.6 326.5,652.0 330.5,652.7 334.5,653.5 338.5,654.6 342.5,655.6 346.5,656.5 350.5,657.0 354.5,657.4 358.5,657.4 362.5,657.1 366.5,656.7 370.5,656.0 374.5,655.0 378.5,653.7 382.5,652.2 386.5,650.8 390.5,649.4 394.5,647.9 398.5,646.1 402.5,644.0 406.5,641.6 410.5,639.3 414.5,637.2 418.5,635.4 422.5,633.7 426.5,632.4 430.5,631.6 434.5,631.1 438.5,631.1 442.5,631.4 446.5,631.7 450.5,631.9 454.5,632.1 458.5,632.2 462.5,632.4 466.5,632.7 470.5,633.3 474.5,634.2 478.5,635.4 482.5,636.9 486.5,638.7 490.5,640.8 494.5,643.0 498.5,644.8 502.5,646.3 506.5,647.2 510.5,647.8 514.5,648.0 518.5,648.0 522.5,647.9 526.5,647.6 530.5,647.4 534.5,647.4 538.5,647.5 542.5,647.8 546.5,648.1 550.5,648.6 554.5,648.9 558.5,648.8 562.5,648.6 566.5,648.0 570.5,647.3 574.5,646.5 578.5,645.7 582.5,644.8 586.5,643.8 590.5,642.8 594.5,641.9 598.5,641.1 602.5,640.3 606.5,639.4 610.5,638.5 614.5,637.6 618.5,637.1 622.5,636.7 626.5,636.7 630.5,636.9 634.5,637.3 638.5,637.8 642.5,638.3 646.5,638.5 650.5,638.4 654.5,637.9 658.5,637.0 662.5,636.0 666.5,635.0 670.5,634.0 674.5,633.0 678.5,632.5 682.5,632.4 686.5,632.8 690.5,633.6 694.5,634.8 698.5,636.0 702.5,637.2 706.5,638.3 710.5,639.4 714.5,640.5 718.5,641.5 722.5,642.4 726.5,643.1 730.5,643.9 734.5,644.9 738.5,646.0 742.5,647.3 746.5,648.7 750.5,650.1 754.5,651.5 758.5,652.6 762.5,653.5 766.5,654.0 770.5,654.3 774.5,654.3 778.5,654.3 782.5,654.4 786.5,654.4 790.5,654.5 794.5,654.9 798.5,655.7 802.5,656.9 806.5,658.4 810.5,660.2 814.5,662.0 818.5,663.7 822.5,665.3 826.5,667.0 830.5,668.4 834.5,669.5 838.5,670.2 842.5,670.4 846.5,670.2 850.5,669.6 854.5,668.3 858.5,666.4 862.5,663.8 866.5,660.3 870.5,656.2 874.5,651.8 878.5,647.1 882.5,641.7 886.5,635.8 890.5,629.8 894.5,623.9 898.5,618.6 902.5,614.9 906.5,612.8 910.5,611.7 914.5,611.4 918.5,612.8 922.5,616.0 926.5,621.5 930.5,628.5 934.5,636.4 938.5,643.9 942.5,650.7 946.5,656.8 950.5,661.9 954.5,665.4 958.5,666.8 962.5,666.5 966.5,664.8 970.5,662.2 974.5,659.6 978.5,657.3 982.5,655.5 986.5,654.8 990.5,654.7 994.5,655.5 998.5,656.2 1002.5,656.9 1006.5,657.3 1010.5,657.3 1014.5,656.5 1018.5,655.4 1022.5,654.2 1026.5,653.2 1030.5,652.3 1034.5,651.7 1038.5,651.5 1042.5,651.6 1046.5,651.9 1050.5,652.8 1054.5,653.7 1058.5,654.4 1062.5,655.0 1066.5,655.4 1070.5,655.4 1074.5,654.7 1078.5,653.5 1082.5,652.1 1086.5,650.8 1090.5,649.6 1094.5,648.6 1098.5,647.8 1102.5,647.1 1106.5,647.0 1110.5,647.3 1114.5,648.0 1118.5,649.0 1122.5,649.7 1126.5,650.2 1130.5,650.2 1134.5,649.9 1138.5,649.0 1142.5,647.8 1146.5,646.7 1150.5,645.6 1154.5,644.3 1158.5,642.8 1162.5,641.0 1166.5,639.1 1170.5,637.0 1174.5,635.0 1178.5,632.9 1182.5,630.6" fill="none" stroke="#ff0000" stroke-width="1" stroke-dasharray="3,3"/>
<rect x="5" y="28" width="1486" height="1" fill="#000"/>
<rect x="5" y="504" width="1486" height="1" fill="#000"/>
<rect x="5" y="28" width="1" height="477" fill="#000"/>
<rect x="1490" y="28" width="1" height="477" fill="#000"/>
<rect x="5" y="506" width="1486" height="1" fill="#000"/>
<rect x="5" y="593" width="1486" height="1" fill="#000"/>
<rect x="5" y="506" width="1" height="88" fill="#000"/>
<rect x="1490" y="506" width="1" height="88" fill="#000"/>
<rect x="5" y="595" width="1486" height="1" fill="#000"/>
<rect x="5" y="681" width="1486" height="1" fill="#000"/>
<rect x="5" y="595" width="1" height="87" fill="#000"/>
<rect x="1490" y="595" width="1" height="87" fill="#000"/>
<rect x="5" y="303" width="6" height="6" fill="#00ff00"/>
<rect x="7" y="305" width="2" height="2" fill="#ffffff"/>
<rect x="1484" y="303" width="6" height="6" fill="#00ff00"/>
<rect x="1486" y="305" width="2" height="2" fill="#ffffff"/>
<rect x="5" y="365" width="6" height="6" fill="#0000ff"/>
<rect x="7" y="367" width="2" height="2" fill="#ffffff"/>
<rect x="1484" y="365" width="6" height="6" fill="#0000ff"/>
<rect x="1486" y="367" width="2" height="2" fill="#ffffff"/>
<line x1="6" y1="533.5" x2="1491" y2="533.5" stroke="#c0c0c0" stroke-width="1" stroke-dasharray="3,3" stroke-dashoffset="-1"/>
<line x1="6" y1="567.5" x2="1491" y2="567.5" stroke="#c0c0c0" stroke-width="1" stroke-dasharray="3,3" stroke-dashoffset="-1"/>
<polyline points="6.5,536.4 10.5,535.5 14.5,538.8 18.5,538.3 22.5,537.9 26.5,548.7 30.5,549.9 34.5,552.8 38.5,551.7 42.5,559.5 46.5,558.1 50.5,559.7 54.5,559.3 58.5,551.8 62.5,551.6 66.5,552.9 70.5,549.9 74.5,551.3 78.5,558.0 82.5,554.8 86.5,555.5 90.5,556.2 94.5,556.4 98.5,556.9 102.5,564.1 106.5,565.6 110.5,562.4 114.5,566.0 118.5,564.7 122.5,561.4 126.5,560.5 130.5,562.6 134.5,569.2 138.5,560.0 142.5,560.4 146.5,548.4 150.5,548.5 154.5,544.3 158.5,548.1 162.5,546.3 166.5,548.3 170.5,547.6 174.5,551.3 178.5,556.1 182.5,559.9 186.5,561.3 190.5,560.0 194.5,559.5 198.5,560.5 202.5,559.3 206.5,560.7 210.5,550.8 214.5,552.2 218.5,555.5 222.5,557.5 226.5,559.0 230.5,561.9 234.5,568.0 238.5,568.9 242.5,569.6 246.5,569.5 250.5,558.8 254.5,556.6 258.5,556.1 262.5,557.7 266.5,552.9 270.5,555.7 274.5,559.5 278.5,549.1 282.5,549.4 286.5,550.4 290.5,558.1 294.5,550.3 298.5,552.2 302.5,552.0 306.5,556.7 310.5,555.1 314.5,558.0 318.5,556.1 322.5,561.2 326.5,562.2 330.5,561.4 334.5,561.7 338.5,565.0 342.5,560.4 346.5,557.1 350.5,551.7 354.5,553.6 358.5,552.2 362.5,552.2 366.5,556.8 370.5,552.3 374.5,547.3 378.5,544.6 382.5,543.9 386.5,546.9 390.5,545.3 394.5,540.6 398.5,535.7 402.5,533.6 406.5,533.1 410.5,536.4 414.5,538.1 418.5,541.4 422.5,544.2 426.5,547.2 430.5,548.0 434.5,545.5 438.5,542.5 442.5,541.5 446.5,537.7 450.5,536.3 454.5,537.6 458.5,539.4 462.5,553.2 466.5,552.7 470.5,557.8 474.5,559.4 478.5,559.8 482.5,556.6 486.5,559.6 490.5,560.0 494.5,560.6 498.5,551.5 502.5,551.2 506.5,547.0 510.5,549.9 514.5,549.4 518.5,548.0 522.5,554.9 526.5,556.3 530.5,558.5 534.5,558.5 538.5,559.9 542.5,557.7 546.5,553.2 550.5,555.7 554.5,545.7 558.5,544.0 562.5,543.1 566.5,542.4 570.5,550.4 574.5,549.9 578.5,547.3 582.5,543.9 586.5,545.5 590.5,540.3 594.5,538.0 598.5,541.2 602.5,539.0 606.5,536.6 610.5,543.4 614.5,545.3 618.5,550.5 622.5,553.3 626.5,550.2 630.5,549.4 634.5,550.6 638.5,547.9 642.5,538.8 646.5,536.6 650.5,534.8 654.5,532.5 658.5,534.3 662.5,537.1 666.5,545.2 670.5,544.5 674.5,540.6 678.5,549.6 682.5,552.7 686.5,554.6 690.5,553.3 694.5,552.0 698.5,549.2 702.5,551.9 706.5,547.0 710.5,549.1 714.5,555.7 718.5,556.0 722.5,557.4 726.5,554.0 730.5,557.5 734.5,561.0 738.5,563.4 742.5,561.8 746.5,564.0 750.5,565.3 754.5,564.6 758.5,557.5 762.5,549.5 766.5,548.8 770.5,554.0 774.5,556.3 778.5,560.4 782.5,563.0 786.5,564.4 790.5,565.9 794.5,567.9 798.5,568.8 802.5,570.6 806.5,573.8 810.5,574.1 814.5,574.3 818.5,575.1 822.5,575.6 826.5,577.6 830.5,574.0 834.5,562.9 838.5,562.1 842.5,562.2 846.5,560.2 850.5,559.6 854.5,541.6 858.5,541.4 862.5,536.7 866.5,529.6 870.5,527.1 874.5,533.6 878.5,530.7 882.5,525.6 886.5,525.3 890.5,522.3 894.5,531.2 898.5,537.1 902.5,551.2 906.5,551.8 910.5,551.6 914.5,547.6 918.5,556.6 922.5,562.2 926.5,566.4 930.5,566.9 934.5,567.7 938.5,560.8 942.5,558.7 946.5,556.4 950.5,547.1 954.5,545.7 958.5,543.4 962.5,548.5 966.5,548.6 970.5,552.4 974.5,555.5 978.5,558.0 982.5,557.3 986.5,557.5 990.5,552.7 994.5,554.0 998.5,550.0 1002.5,549.0 1006.5,550.1 1010.5,551.7 1014.5,547.8 1018.5,551.4 1022.5,555.3 1026.5,552.0 1030.5,553.3 1034.5,553.0 1038.5,554.2 1042.5,555.7 1046.5,556.7 1050.5,557.8 1054.5,557.7 1058.5,554.7 1062.5,553.9 1066.5,552.2 1070.5,545.5 1074.5,541.0 1078.5,543.2 1082.5,549.0 1086.5,554.0 1090.5,556.5 1094.5,555.6 1098.5,552.2 1102.5,553.2 1106.5,554.4 1110.5,551.0 1114.5,553.3 1118.5,556.3 1122.5,554.4 1126.5,554.6 1130.5,546.3 1134.5,543.7 1138.5,540.7 1142.5,543.7 1146.5,549.0 1150.5,548.7 1154.5,549.1 1158.5,542.8 1162.5,543.3 1166.5,536.6 1170.5,534.6 1174.5,535.3 1178.5,534.0 1182.5,533.4" fill="none" stroke="#1e90ff" stroke-width="1" />
<rect x="1491" y="39" width="2" height="1" fill="#000"/>
<rect x="1491" y="72" width="2" height="1" fill="#000"/>
<rect x="1491" y="105" width="2" height="1" fill="#000"/>
<rect x="1491" y="138" width="2" height="1" fill="#000"/>
<rect x="1491" y="171" width="2" height="1" fill="#000"/>
<rect x="1491" y="204" width="2" height="1" fill="#000"/>
<rect x="1491" y="237" width="2" height="1" fill="#000"/>
<rect x="1491" y="270" width="2" height="1" fill="#000"/>
<rect x="1491" y="303" width="2" height="1" fill="#000"/>
<rect x="1491" y="336" width="2" height="1" fill="#000"/>
<rect x="1491" y="369" width="2" height="1" fill="#000"/>
<rect x="1491" y="402" width="2" height="1" fill="#000"/>
<rect x="1491" y="435" width="2" height="1" fill="#000"/>
<rect x="1491" y="468" width="2" height="1" fill="#000"/>
<rect x="1491" y="501" width="2" height="1" fill="#000"/>
<rect x="1491" y="508" width="2" height="1" fill="#000"/>
<rect x="1491" y="592" width="2" height="1" fill="#000"/>
<rect x="1491" y="597" width="2" height="1" fill="#000"/>
<rect x="1491" y="644" width="2" height="1" fill="#000"/>
<rect x="1491" y="680" width="2" height="1" fill="#000"/>
<rect x="6" y="682" width="1" height="3" fill="#000"/>
<rect x="70" y="682" width="1" height="3" fill="#000"/>
<rect x="134" y="682" width="1" height="3" fill="#000"/>
<rect x="198" y="682" width="1" height="3" fill="#000"/>
<rect x="262" y="682" width="1" height="3" fill="#000"/>
<rect x="326" y="682" width="1" height="3" fill="#000"/>
<rect x="390" y="682" width="1" height="3" fill="#000"/>
<rect x="454" y="682" width="1" height="3" fill="#000"/>
<rect x="518" y="682" width="1" height="3" fill="#000"/>
<rect x="582" y="682" width="1" height="3" fill="#000"/>
<rect x="646" y="682" width="1" height="3" fill="#000"/>
<rect x="710" y="682" width="1" height="3" fill="#000"/>
<rect x="774" y="682" width="1" height="3" fill="#000"/>
<rect x="838" y="682" width="1" height="3" fill="#000"/>
<rect x="902" y="682" width="1" height="3" fill="#000"/>
<rect x="966" y="682" width="1" height="3" fill="#000"/>
<rect x="1030" y="682" width="1" height="3" fill="#000"/>
<rect x="1094" y="682" width="1" height="3" fill="#000"/>
<rect x="1158" y="682" width="1" height="3" fill="#000"/>
<polygon points="9,35 16,35 12.5,39" fill="#000"/>
</svg>
<div class="t n" style="left:-0.6px;top:8.98px;font-size:9px;color:#3c3c3c;">15</div><div class="t n" style="left:19.3px;top:8.98px;font-size:9px;color:#3c3c3c;">M30</div><div class="t n" style="left:50.5px;top:8.98px;font-size:9px;color:#3c3c3c;">H1</div><div class="t n" style="left:77.5px;top:8.98px;font-size:9px;color:#3c3c3c;">H4</div><div class="t n" style="left:106.8px;top:8.98px;font-size:9px;color:#3c3c3c;">D1</div><div class="t n" style="left:134.3px;top:8.98px;font-size:9px;color:#3c3c3c;">W1</div><div class="t n" style="left:160.6px;top:8.98px;font-size:9px;color:#3c3c3c;">MN</div><div class="t" style="left:20.8px;top:32.24px;font-size:9.4px;color:#000;">EURUSD,Daily</div><div class="t" style="left:91.2px;top:32.24px;font-size:9.4px;color:#000;">1.11220 1.11355 1.11185 1.11333</div><div class="t" style="left:1496.4px;top:36.08px;font-size:9px;color:#000;">1.15190</div><div class="t" style="left:1496.4px;top:69.08px;font-size:9px;color:#000;">1.14545</div><div class="t" style="left:1496.4px;top:102.08px;font-size:9px;color:#000;">1.13915</div><div class="t" style="left:1496.4px;top:135.08px;font-size:9px;color:#000;">1.13270</div><div class="t" style="left:1496.4px;top:168.08px;font-size:9px;color:#000;">1.12625</div><div class="t" style="left:1496.4px;top:267.08px;font-size:9px;color:#000;">1.10705</div><div class="t" style="left:1496.4px;top:333.08px;font-size:9px;color:#000;">1.09415</div><div class="t" style="left:1496.4px;top:399.08px;font-size:9px;color:#000;">1.08125</div><div class="t" style="left:1496.4px;top:432.08px;font-size:9px;color:#000;">1.07495</div><div class="t" style="left:1496.4px;top:465.08px;font-size:9px;color:#000;">1.06850</div><div class="t" style="left:1496.4px;top:498.08px;font-size:9px;color:#000;">1.06205</div><div class="t" style="left:10px;top:511.43px;font-size:9.3px;color:#000;">RSI(14) 69.9966</div><div class="t" style="left:1494.1px;top:509.78px;font-size:9px;color:#000;">100</div><div class="t" style="left:1492.6px;top:529.78px;font-size:9px;color:#000;">70</div><div class="t" style="left:1492.6px;top:563.88px;font-size:9px;color:#000;">30</div><div class="t" style="left:1493.6px;top:582.78px;font-size:9px;color:#000;">0</div><div class="t" style="left:10px;top:600.93px;font-size:9.3px;color:#000;">MACD(12,26,9) 0.006251 0.003258</div><div class="t" style="left:1493.6px;top:598.58px;font-size:9px;color:#000;">0.011277</div><div class="t" style="left:1493.6px;top:640.58px;font-size:9px;color:#000;">0.00</div><div class="t" style="left:1493.6px;top:670.78px;font-size:9px;color:#000;">-0.008845</div><div class="t" style="left:5px;top:686.51px;font-size:9.2px;color:#000;">25 Jun 2019</div><div class="t" style="left:69px;top:686.51px;font-size:9.2px;color:#000;">13 Jul 2019</div><div class="t" style="left:133px;top:686.51px;font-size:9.2px;color:#000;">1 Aug 2019</div><div class="t" style="left:197px;top:686.51px;font-size:9.2px;color:#000;">20 Aug 2019</div><div class="t" style="left:261px;top:686.51px;font-size:9.2px;color:#000;">7 Sep 2019</div><div class="t" style="left:325px;top:686.51px;font-size:9.2px;color:#000;">26 Sep 2019</div><div class="t" style="left:389px;top:686.51px;font-size:9.2px;color:#000;">15 Oct 2019</div><div class="t" style="left:453px;top:686.51px;font-size:9.2px;color:#000;">2 Nov 2019</div><div class="t" style="left:517px;top:686.51px;font-size:9.2px;color:#000;">21 Nov 2019</div><div class="t" style="left:581px;top:686.51px;font-size:9.2px;color:#000;">10 Dec 2019</div><div class="t" style="left:645px;top:686.51px;font-size:9.2px;color:#000;">28 Dec 2019</div><div class="t" style="left:709px;top:686.51px;font-size:9.2px;color:#000;">16 Jan 2020</div><div class="t" style="left:773px;top:686.51px;font-size:9.2px;color:#000;">4 Feb 2020</div><div class="t" style="left:837px;top:686.51px;font-size:9.2px;color:#000;">22 Feb 2020</div><div class="t" style="left:901px;top:686.51px;font-size:9.2px;color:#000;">12 Mar 2020</div><div class="t" style="left:965px;top:686.51px;font-size:9.2px;color:#000;">31 Mar 2020</div><div class="t" style="left:1029px;top:686.51px;font-size:9.2px;color:#000;">18 Apr 2020</div><div class="t" style="left:1093px;top:686.51px;font-size:9.2px;color:#000;">7 May 2020</div><div class="t" style="left:1157px;top:686.51px;font-size:9.2px;color:#000;">26 May 2020</div>
<div class="bx" style="top:144px;background:#ff0000;color:#fff"><span style="position:absolute;left:4.6px;top:1.88px;font-size:9px;line-height:1">1.13034</span></div><div class="bx" style="top:197px;background:#ff0000;color:#fff"><span style="position:absolute;left:4.6px;top:1.88px;font-size:9px;line-height:1">1.12004</span></div><div class="bx" style="top:233px;background:#000;color:#fff"><span style="position:absolute;left:4.6px;top:1.88px;font-size:9px;line-height:1">1.11333</span></div><div class="bx" style="top:248px;background:#ff0000;color:#fff"><span style="position:absolute;left:4.6px;top:1.88px;font-size:9px;line-height:1">1.11009</span></div><div class="bx" style="top:300px;background:#00ff00;color:#fff"><span style="position:absolute;left:4.6px;top:1.88px;font-size:9px;line-height:1">1.10008</span></div><div class="bx" style="top:362px;background:#0000ff;color:#fff"><span style="position:absolute;left:4.6px;top:1.88px;font-size:9px;line-height:1">1.08800</span></div><div class="bx" style="top:418px;background:#0000ff;color:#fff"><span style="position:absolute;left:4.6px;top:1.88px;font-size:9px;line-height:1">1.07697</span></div><div class="bx" style="top:490px;background:#0000ff;color:#fff"><span style="position:absolute;left:4.6px;top:1.88px;font-size:9px;line-height:1">1.06306</span></div>
</body></html>
